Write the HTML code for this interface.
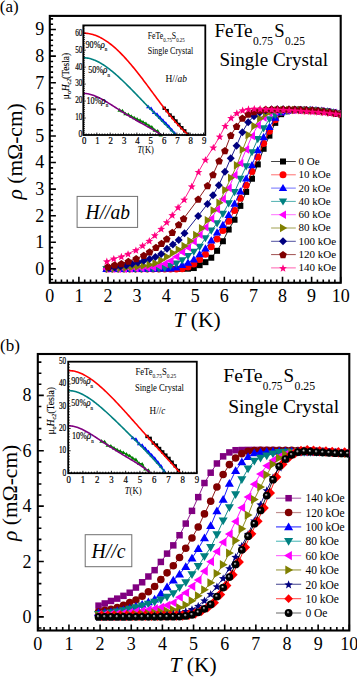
<!DOCTYPE html>
<html><head><meta charset="utf-8"><style>html,body{margin:0;padding:0;background:#fff;overflow:hidden}svg{display:block}</style></head>
<body><svg width="357" height="677" viewBox="0 0 357 677" font-family="Liberation Serif"><defs><radialGradient id="ball" cx="0.5" cy="0.5" r="0.5" fx="0.4" fy="0.36"><stop offset="0" stop-color="#e0e0e0"/><stop offset="0.14" stop-color="#999"/><stop offset="0.4" stop-color="#000"/><stop offset="1" stop-color="#000"/></radialGradient></defs><rect width="357" height="677" fill="#fff"/><text x="-0.2" y="12.3" font-size="17" text-anchor="start" >(a)</text><text x="44.2" y="274.7" font-size="18" text-anchor="end" >0</text><text x="44.2" y="248.11" font-size="18" text-anchor="end" >1</text><text x="44.2" y="221.51" font-size="18" text-anchor="end" >2</text><text x="44.2" y="194.92" font-size="18" text-anchor="end" >3</text><text x="44.2" y="168.32" font-size="18" text-anchor="end" >4</text><text x="44.2" y="141.73" font-size="18" text-anchor="end" >5</text><text x="44.2" y="115.14" font-size="18" text-anchor="end" >6</text><text x="44.2" y="88.54" font-size="18" text-anchor="end" >7</text><text x="44.2" y="61.95" font-size="18" text-anchor="end" >8</text><text x="44.2" y="35.35" font-size="18" text-anchor="end" >9</text><text x="49.8" y="301.5" font-size="18" text-anchor="middle" >0</text><text x="78.89" y="301.5" font-size="18" text-anchor="middle" >1</text><text x="107.98" y="301.5" font-size="18" text-anchor="middle" >2</text><text x="137.07" y="301.5" font-size="18" text-anchor="middle" >3</text><text x="166.16" y="301.5" font-size="18" text-anchor="middle" >4</text><text x="195.25" y="301.5" font-size="18" text-anchor="middle" >5</text><text x="224.34" y="301.5" font-size="18" text-anchor="middle" >6</text><text x="253.43" y="301.5" font-size="18" text-anchor="middle" >7</text><text x="282.52" y="301.5" font-size="18" text-anchor="middle" >8</text><text x="311.61" y="301.5" font-size="18" text-anchor="middle" >9</text><text x="340.7" y="301.5" font-size="18" text-anchor="middle" >10</text><text transform="translate(22.3,151.3) rotate(-90)" font-size="21.5" text-anchor="middle"><tspan font-style="italic">&#961;</tspan> (m&#937;-cm)</text><text x="197" y="326.8" font-size="21.5" text-anchor="middle"><tspan font-style="italic">T</tspan> (K)</text><path d="M49.8,282.8V276.7M55.62,282.8V279.5M61.44,282.8V279.5M67.25,282.8V279.5M73.07,282.8V279.5M78.89,282.8V276.7M84.71,282.8V279.5M90.53,282.8V279.5M96.34,282.8V279.5M102.16,282.8V279.5M107.98,282.8V276.7M113.8,282.8V279.5M119.62,282.8V279.5M125.43,282.8V279.5M131.25,282.8V279.5M137.07,282.8V276.7M142.89,282.8V279.5M148.71,282.8V279.5M154.52,282.8V279.5M160.34,282.8V279.5M166.16,282.8V276.7M171.98,282.8V279.5M177.8,282.8V279.5M183.61,282.8V279.5M189.43,282.8V279.5M195.25,282.8V276.7M201.07,282.8V279.5M206.89,282.8V279.5M212.7,282.8V279.5M218.52,282.8V279.5M224.34,282.8V276.7M230.16,282.8V279.5M235.98,282.8V279.5M241.79,282.8V279.5M247.61,282.8V279.5M253.43,282.8V276.7M259.25,282.8V279.5M265.07,282.8V279.5M270.88,282.8V279.5M276.7,282.8V279.5M282.52,282.8V276.7M288.34,282.8V279.5M294.16,282.8V279.5M299.97,282.8V279.5M305.79,282.8V279.5M311.61,282.8V276.7M317.43,282.8V279.5M323.25,282.8V279.5M329.06,282.8V279.5M334.88,282.8V279.5M340.7,282.8V276.7M49.8,279.54H53.1M49.8,274.22H53.1M49.8,268.9H55.9M49.8,263.58H53.1M49.8,258.26H53.1M49.8,252.94H53.1M49.8,247.62H53.1M49.8,242.31H55.9M49.8,236.99H53.1M49.8,231.67H53.1M49.8,226.35H53.1M49.8,221.03H53.1M49.8,215.71H55.9M49.8,210.39H53.1M49.8,205.07H53.1M49.8,199.76H53.1M49.8,194.44H53.1M49.8,189.12H55.9M49.8,183.8H53.1M49.8,178.48H53.1M49.8,173.16H53.1M49.8,167.84H53.1M49.8,162.52H55.9M49.8,157.21H53.1M49.8,151.89H53.1M49.8,146.57H53.1M49.8,141.25H53.1M49.8,135.93H55.9M49.8,130.61H53.1M49.8,125.29H53.1M49.8,119.97H53.1M49.8,114.65H53.1M49.8,109.34H55.9M49.8,104.02H53.1M49.8,98.7H53.1M49.8,93.38H53.1M49.8,88.06H53.1M49.8,82.74H55.9M49.8,77.42H53.1M49.8,72.1H53.1M49.8,66.79H53.1M49.8,61.47H53.1M49.8,56.15H55.9M49.8,50.83H53.1M49.8,45.51H53.1M49.8,40.19H53.1M49.8,34.87H53.1M49.8,29.55H55.9M49.8,24.24H53.1M49.8,18.92H53.1" stroke="#000" stroke-width="1.6" fill="none"/><rect x="49.8" y="15.9" width="290.9" height="266.9" stroke="#000" stroke-width="2.1" fill="none"/><text x="214.4" y="36.7" font-size="18.5" text-anchor="start" textLength="38.2" lengthAdjust="spacingAndGlyphs" >FeTe</text><text x="252.9" y="44.5" font-size="11.5" text-anchor="start" textLength="20.2" lengthAdjust="spacingAndGlyphs" >0.75</text><text x="274.3" y="36.7" font-size="18.5" text-anchor="start" textLength="10.4" lengthAdjust="spacingAndGlyphs" >S</text><text x="285" y="44.5" font-size="11.5" text-anchor="start" textLength="20" lengthAdjust="spacingAndGlyphs" >0.25</text><text x="219.4" y="66.3" font-size="19" text-anchor="start" textLength="108.6" lengthAdjust="spacingAndGlyphs" >Single Crystal</text><rect x="77.1" y="196.4" width="60.5" height="31" fill="#fff" stroke="#707070" stroke-width="1"/><text x="85.6" y="219.1" font-size="21.5" text-anchor="start" font-style="italic" textLength="44.4" lengthAdjust="spacingAndGlyphs" >H//ab</text><clipPath id="clipA"><rect x="49.8" y="15.9" width="290.9" height="266.9"/></clipPath><g clip-path="url(#clipA)"><polyline points="106.53,268.9 112.34,268.9 118.16,268.9 123.98,268.9 129.8,268.9 135.62,268.9 141.43,268.9 147.25,268.9 153.07,268.9 158.89,268.9 164.71,268.9 170.52,268.9 176.34,268.9 182.16,268.89 187.98,268.69 193.8,268.05 199.61,265.17 205.43,262.16 211.25,257.73 217.07,250.82 222.89,241.24 228.7,229.55 234.52,219.74 240.34,205.87 246.16,191.9 251.98,178.75 257.79,164.43 263.61,148.78 269.43,135.66 275.25,122.86 281.07,114.17 286.88,111.34 292.7,110.26 298.52,109.89 304.34,109.9 310.16,110.07 315.97,110.4 321.79,110.92 327.61,111.64 333.43,112.58 339.25,113.78" stroke="#000000" stroke-width="0.9" fill="none"/><rect x="103.53" y="265.9" width="6" height="6" fill="#000000"/><rect x="109.34" y="265.9" width="6" height="6" fill="#000000"/><rect x="115.16" y="265.9" width="6" height="6" fill="#000000"/><rect x="120.98" y="265.9" width="6" height="6" fill="#000000"/><rect x="126.8" y="265.9" width="6" height="6" fill="#000000"/><rect x="132.62" y="265.9" width="6" height="6" fill="#000000"/><rect x="138.43" y="265.9" width="6" height="6" fill="#000000"/><rect x="144.25" y="265.9" width="6" height="6" fill="#000000"/><rect x="150.07" y="265.9" width="6" height="6" fill="#000000"/><rect x="155.89" y="265.9" width="6" height="6" fill="#000000"/><rect x="161.71" y="265.9" width="6" height="6" fill="#000000"/><rect x="167.52" y="265.9" width="6" height="6" fill="#000000"/><rect x="173.34" y="265.9" width="6" height="6" fill="#000000"/><rect x="179.16" y="265.89" width="6" height="6" fill="#000000"/><rect x="184.98" y="265.69" width="6" height="6" fill="#000000"/><rect x="190.8" y="265.05" width="6" height="6" fill="#000000"/><rect x="196.61" y="262.17" width="6" height="6" fill="#000000"/><rect x="202.43" y="259.16" width="6" height="6" fill="#000000"/><rect x="208.25" y="254.73" width="6" height="6" fill="#000000"/><rect x="214.07" y="247.82" width="6" height="6" fill="#000000"/><rect x="219.89" y="238.24" width="6" height="6" fill="#000000"/><rect x="225.7" y="226.55" width="6" height="6" fill="#000000"/><rect x="231.52" y="216.74" width="6" height="6" fill="#000000"/><rect x="237.34" y="202.87" width="6" height="6" fill="#000000"/><rect x="243.16" y="188.9" width="6" height="6" fill="#000000"/><rect x="248.98" y="175.75" width="6" height="6" fill="#000000"/><rect x="254.79" y="161.43" width="6" height="6" fill="#000000"/><rect x="260.61" y="145.78" width="6" height="6" fill="#000000"/><rect x="266.43" y="132.66" width="6" height="6" fill="#000000"/><rect x="272.25" y="119.86" width="6" height="6" fill="#000000"/><rect x="278.07" y="111.17" width="6" height="6" fill="#000000"/><rect x="283.88" y="108.34" width="6" height="6" fill="#000000"/><rect x="289.7" y="107.26" width="6" height="6" fill="#000000"/><rect x="295.52" y="106.89" width="6" height="6" fill="#000000"/><rect x="301.34" y="106.9" width="6" height="6" fill="#000000"/><rect x="307.16" y="107.07" width="6" height="6" fill="#000000"/><rect x="312.97" y="107.4" width="6" height="6" fill="#000000"/><rect x="318.79" y="107.92" width="6" height="6" fill="#000000"/><rect x="324.61" y="108.64" width="6" height="6" fill="#000000"/><rect x="330.43" y="109.58" width="6" height="6" fill="#000000"/><rect x="336.25" y="110.78" width="6" height="6" fill="#000000"/><polyline points="106.53,268.9 112.34,268.9 118.16,268.9 123.98,268.9 129.8,268.9 135.62,268.9 141.43,268.9 147.25,268.9 153.07,268.9 158.89,268.9 164.71,268.9 170.52,268.9 176.34,268.9 182.16,268.78 187.98,266.93 193.8,263.94 199.61,259.59 205.43,254.27 211.25,246.83 217.07,238.95 222.89,230.53 228.7,221.3 234.52,210.44 240.34,198.16 246.16,185.26 251.98,171.57 257.79,157.04 263.61,143.49 269.43,131.14 275.25,119.73 281.07,112.57 286.88,110.49 292.7,109.99 298.52,109.87 304.34,109.95 310.16,110.16 315.97,110.51 321.79,111.03 327.61,111.74 333.43,112.65 339.25,113.8" stroke="#FF0000" stroke-width="0.9" fill="none"/><circle cx="106.53" cy="268.9" r="3.5" fill="#FF0000"/><circle cx="112.34" cy="268.9" r="3.5" fill="#FF0000"/><circle cx="118.16" cy="268.9" r="3.5" fill="#FF0000"/><circle cx="123.98" cy="268.9" r="3.5" fill="#FF0000"/><circle cx="129.8" cy="268.9" r="3.5" fill="#FF0000"/><circle cx="135.62" cy="268.9" r="3.5" fill="#FF0000"/><circle cx="141.43" cy="268.9" r="3.5" fill="#FF0000"/><circle cx="147.25" cy="268.9" r="3.5" fill="#FF0000"/><circle cx="153.07" cy="268.9" r="3.5" fill="#FF0000"/><circle cx="158.89" cy="268.9" r="3.5" fill="#FF0000"/><circle cx="164.71" cy="268.9" r="3.5" fill="#FF0000"/><circle cx="170.52" cy="268.9" r="3.5" fill="#FF0000"/><circle cx="176.34" cy="268.9" r="3.5" fill="#FF0000"/><circle cx="182.16" cy="268.78" r="3.5" fill="#FF0000"/><circle cx="187.98" cy="266.93" r="3.5" fill="#FF0000"/><circle cx="193.8" cy="263.94" r="3.5" fill="#FF0000"/><circle cx="199.61" cy="259.59" r="3.5" fill="#FF0000"/><circle cx="205.43" cy="254.27" r="3.5" fill="#FF0000"/><circle cx="211.25" cy="246.83" r="3.5" fill="#FF0000"/><circle cx="217.07" cy="238.95" r="3.5" fill="#FF0000"/><circle cx="222.89" cy="230.53" r="3.5" fill="#FF0000"/><circle cx="228.7" cy="221.3" r="3.5" fill="#FF0000"/><circle cx="234.52" cy="210.44" r="3.5" fill="#FF0000"/><circle cx="240.34" cy="198.16" r="3.5" fill="#FF0000"/><circle cx="246.16" cy="185.26" r="3.5" fill="#FF0000"/><circle cx="251.98" cy="171.57" r="3.5" fill="#FF0000"/><circle cx="257.79" cy="157.04" r="3.5" fill="#FF0000"/><circle cx="263.61" cy="143.49" r="3.5" fill="#FF0000"/><circle cx="269.43" cy="131.14" r="3.5" fill="#FF0000"/><circle cx="275.25" cy="119.73" r="3.5" fill="#FF0000"/><circle cx="281.07" cy="112.57" r="3.5" fill="#FF0000"/><circle cx="286.88" cy="110.49" r="3.5" fill="#FF0000"/><circle cx="292.7" cy="109.99" r="3.5" fill="#FF0000"/><circle cx="298.52" cy="109.87" r="3.5" fill="#FF0000"/><circle cx="304.34" cy="109.95" r="3.5" fill="#FF0000"/><circle cx="310.16" cy="110.16" r="3.5" fill="#FF0000"/><circle cx="315.97" cy="110.51" r="3.5" fill="#FF0000"/><circle cx="321.79" cy="111.03" r="3.5" fill="#FF0000"/><circle cx="327.61" cy="111.74" r="3.5" fill="#FF0000"/><circle cx="333.43" cy="112.65" r="3.5" fill="#FF0000"/><circle cx="339.25" cy="113.8" r="3.5" fill="#FF0000"/><polyline points="106.53,268.9 112.34,268.9 118.16,268.89 123.98,268.88 129.8,268.86 135.62,268.83 141.43,268.79 147.25,268.74 153.07,268.68 158.89,268.6 164.71,268.51 170.52,268.4 176.34,267.42 182.16,265.07 187.98,262.65 193.8,259.39 199.61,254.27 205.43,248.42 211.25,240.55 217.07,232.45 222.89,225.02 228.7,214.91 234.52,203.8 240.34,191.51 246.16,178.61 251.98,165.18 257.79,150.29 263.61,137.26 269.43,126.89 275.25,117.74 281.07,112.58 286.88,110.97 292.7,110.08 298.52,109.87 304.34,109.9 310.16,110.02 315.97,110.27 321.79,110.72 327.61,111.41 333.43,112.39 339.25,113.73" stroke="#0000FF" stroke-width="0.9" fill="none"/><polygon points="106.53,264.7 102.33,271.9 110.73,271.9" fill="#0000FF"/><polygon points="112.34,264.7 108.14,271.9 116.54,271.9" fill="#0000FF"/><polygon points="118.16,264.69 113.96,271.89 122.36,271.89" fill="#0000FF"/><polygon points="123.98,264.68 119.78,271.88 128.18,271.88" fill="#0000FF"/><polygon points="129.8,264.66 125.6,271.86 134,271.86" fill="#0000FF"/><polygon points="135.62,264.63 131.42,271.83 139.82,271.83" fill="#0000FF"/><polygon points="141.43,264.59 137.23,271.79 145.63,271.79" fill="#0000FF"/><polygon points="147.25,264.54 143.05,271.74 151.45,271.74" fill="#0000FF"/><polygon points="153.07,264.48 148.87,271.68 157.27,271.68" fill="#0000FF"/><polygon points="158.89,264.4 154.69,271.6 163.09,271.6" fill="#0000FF"/><polygon points="164.71,264.31 160.51,271.51 168.91,271.51" fill="#0000FF"/><polygon points="170.52,264.2 166.32,271.4 174.72,271.4" fill="#0000FF"/><polygon points="176.34,263.22 172.14,270.42 180.54,270.42" fill="#0000FF"/><polygon points="182.16,260.87 177.96,268.07 186.36,268.07" fill="#0000FF"/><polygon points="187.98,258.45 183.78,265.65 192.18,265.65" fill="#0000FF"/><polygon points="193.8,255.19 189.6,262.39 198,262.39" fill="#0000FF"/><polygon points="199.61,250.07 195.41,257.27 203.81,257.27" fill="#0000FF"/><polygon points="205.43,244.22 201.23,251.42 209.63,251.42" fill="#0000FF"/><polygon points="211.25,236.35 207.05,243.55 215.45,243.55" fill="#0000FF"/><polygon points="217.07,228.25 212.87,235.45 221.27,235.45" fill="#0000FF"/><polygon points="222.89,220.82 218.69,228.02 227.09,228.02" fill="#0000FF"/><polygon points="228.7,210.71 224.5,217.91 232.9,217.91" fill="#0000FF"/><polygon points="234.52,199.6 230.32,206.8 238.72,206.8" fill="#0000FF"/><polygon points="240.34,187.31 236.14,194.51 244.54,194.51" fill="#0000FF"/><polygon points="246.16,174.41 241.96,181.61 250.36,181.61" fill="#0000FF"/><polygon points="251.98,160.98 247.78,168.18 256.18,168.18" fill="#0000FF"/><polygon points="257.79,146.09 253.59,153.29 261.99,153.29" fill="#0000FF"/><polygon points="263.61,133.06 259.41,140.26 267.81,140.26" fill="#0000FF"/><polygon points="269.43,122.69 265.23,129.89 273.63,129.89" fill="#0000FF"/><polygon points="275.25,113.54 271.05,120.74 279.45,120.74" fill="#0000FF"/><polygon points="281.07,108.38 276.87,115.58 285.27,115.58" fill="#0000FF"/><polygon points="286.88,106.77 282.68,113.97 291.08,113.97" fill="#0000FF"/><polygon points="292.7,105.88 288.5,113.08 296.9,113.08" fill="#0000FF"/><polygon points="298.52,105.67 294.32,112.87 302.72,112.87" fill="#0000FF"/><polygon points="304.34,105.7 300.14,112.9 308.54,112.9" fill="#0000FF"/><polygon points="310.16,105.82 305.96,113.02 314.36,113.02" fill="#0000FF"/><polygon points="315.97,106.07 311.77,113.27 320.17,113.27" fill="#0000FF"/><polygon points="321.79,106.52 317.59,113.72 325.99,113.72" fill="#0000FF"/><polygon points="327.61,107.21 323.41,114.41 331.81,114.41" fill="#0000FF"/><polygon points="333.43,108.19 329.23,115.39 337.63,115.39" fill="#0000FF"/><polygon points="339.25,109.53 335.05,116.73 343.45,116.73" fill="#0000FF"/><polyline points="106.53,268.9 112.34,268.9 118.16,268.89 123.98,268.87 129.8,268.84 135.62,268.8 141.43,268.74 147.25,268.67 153.07,268.57 158.89,268.45 164.71,267.93 170.52,265.74 176.34,263.45 182.16,260.2 187.98,255.92 193.8,251.66 199.61,246.83 205.43,238.17 211.25,230.56 217.07,223.3 222.89,213.85 228.7,203.21 234.52,192.12 240.34,178.75 246.16,166.37 251.98,152.15 257.79,139.12 263.61,128.22 269.43,119.13 275.25,115.01 281.07,111.87 286.88,110.71 292.7,110.04 298.52,109.87 304.34,109.93 310.16,110.09 315.97,110.4 321.79,110.88 327.61,111.58 333.43,112.53 339.25,113.77" stroke="#008080" stroke-width="0.9" fill="none"/><polygon points="106.53,273.1 102.33,265.9 110.73,265.9" fill="#008080"/><polygon points="112.34,273.1 108.14,265.9 116.54,265.9" fill="#008080"/><polygon points="118.16,273.09 113.96,265.89 122.36,265.89" fill="#008080"/><polygon points="123.98,273.07 119.78,265.87 128.18,265.87" fill="#008080"/><polygon points="129.8,273.04 125.6,265.84 134,265.84" fill="#008080"/><polygon points="135.62,273 131.42,265.8 139.82,265.8" fill="#008080"/><polygon points="141.43,272.94 137.23,265.74 145.63,265.74" fill="#008080"/><polygon points="147.25,272.87 143.05,265.67 151.45,265.67" fill="#008080"/><polygon points="153.07,272.77 148.87,265.57 157.27,265.57" fill="#008080"/><polygon points="158.89,272.65 154.69,265.45 163.09,265.45" fill="#008080"/><polygon points="164.71,272.13 160.51,264.93 168.91,264.93" fill="#008080"/><polygon points="170.52,269.94 166.32,262.74 174.72,262.74" fill="#008080"/><polygon points="176.34,267.65 172.14,260.45 180.54,260.45" fill="#008080"/><polygon points="182.16,264.4 177.96,257.2 186.36,257.2" fill="#008080"/><polygon points="187.98,260.12 183.78,252.92 192.18,252.92" fill="#008080"/><polygon points="193.8,255.86 189.6,248.66 198,248.66" fill="#008080"/><polygon points="199.61,251.03 195.41,243.83 203.81,243.83" fill="#008080"/><polygon points="205.43,242.37 201.23,235.17 209.63,235.17" fill="#008080"/><polygon points="211.25,234.76 207.05,227.56 215.45,227.56" fill="#008080"/><polygon points="217.07,227.5 212.87,220.3 221.27,220.3" fill="#008080"/><polygon points="222.89,218.05 218.69,210.85 227.09,210.85" fill="#008080"/><polygon points="228.7,207.41 224.5,200.21 232.9,200.21" fill="#008080"/><polygon points="234.52,196.32 230.32,189.12 238.72,189.12" fill="#008080"/><polygon points="240.34,182.95 236.14,175.75 244.54,175.75" fill="#008080"/><polygon points="246.16,170.57 241.96,163.37 250.36,163.37" fill="#008080"/><polygon points="251.98,156.35 247.78,149.15 256.18,149.15" fill="#008080"/><polygon points="257.79,143.32 253.59,136.12 261.99,136.12" fill="#008080"/><polygon points="263.61,132.42 259.41,125.22 267.81,125.22" fill="#008080"/><polygon points="269.43,123.33 265.23,116.13 273.63,116.13" fill="#008080"/><polygon points="275.25,119.21 271.05,112.01 279.45,112.01" fill="#008080"/><polygon points="281.07,116.07 276.87,108.87 285.27,108.87" fill="#008080"/><polygon points="286.88,114.91 282.68,107.71 291.08,107.71" fill="#008080"/><polygon points="292.7,114.24 288.5,107.04 296.9,107.04" fill="#008080"/><polygon points="298.52,114.07 294.32,106.87 302.72,106.87" fill="#008080"/><polygon points="304.34,114.13 300.14,106.93 308.54,106.93" fill="#008080"/><polygon points="310.16,114.29 305.96,107.09 314.36,107.09" fill="#008080"/><polygon points="315.97,114.6 311.77,107.4 320.17,107.4" fill="#008080"/><polygon points="321.79,115.08 317.59,107.88 325.99,107.88" fill="#008080"/><polygon points="327.61,115.78 323.41,108.58 331.81,108.58" fill="#008080"/><polygon points="333.43,116.73 329.23,109.53 337.63,109.53" fill="#008080"/><polygon points="339.25,117.97 335.05,110.77 343.45,110.77" fill="#008080"/><polyline points="106.53,268.9 112.34,268.89 118.16,268.83 123.98,268.73 129.8,268.59 135.62,268.39 141.43,268.14 147.25,267.84 153.07,267.42 158.89,265.92 164.71,263.7 170.52,260.84 176.34,256.67 182.16,251.96 187.98,247.39 193.8,241.46 199.61,234.83 205.43,227.27 211.25,218.72 217.07,209.31 222.89,199.07 228.7,188.01 234.52,175.13 240.34,163.32 246.16,149.49 251.98,135.93 257.79,125.29 263.61,117.58 269.43,113.15 275.25,111.21 281.07,110.18 286.88,110.14 292.7,110.16 298.52,110.22 304.34,110.34 310.16,110.56 315.97,110.89 321.79,111.36 327.61,111.99 333.43,112.81 339.25,113.83" stroke="#FF00FF" stroke-width="0.9" fill="none"/><polygon points="102.33,268.9 109.53,264.7 109.53,273.1" fill="#FF00FF"/><polygon points="108.14,268.89 115.34,264.69 115.34,273.09" fill="#FF00FF"/><polygon points="113.96,268.83 121.16,264.63 121.16,273.03" fill="#FF00FF"/><polygon points="119.78,268.73 126.98,264.53 126.98,272.93" fill="#FF00FF"/><polygon points="125.6,268.59 132.8,264.39 132.8,272.79" fill="#FF00FF"/><polygon points="131.42,268.39 138.62,264.19 138.62,272.59" fill="#FF00FF"/><polygon points="137.23,268.14 144.43,263.94 144.43,272.34" fill="#FF00FF"/><polygon points="143.05,267.84 150.25,263.64 150.25,272.04" fill="#FF00FF"/><polygon points="148.87,267.42 156.07,263.22 156.07,271.62" fill="#FF00FF"/><polygon points="154.69,265.92 161.89,261.72 161.89,270.12" fill="#FF00FF"/><polygon points="160.51,263.7 167.71,259.5 167.71,267.9" fill="#FF00FF"/><polygon points="166.32,260.84 173.52,256.64 173.52,265.04" fill="#FF00FF"/><polygon points="172.14,256.67 179.34,252.47 179.34,260.87" fill="#FF00FF"/><polygon points="177.96,251.96 185.16,247.76 185.16,256.16" fill="#FF00FF"/><polygon points="183.78,247.39 190.98,243.19 190.98,251.59" fill="#FF00FF"/><polygon points="189.6,241.46 196.8,237.26 196.8,245.66" fill="#FF00FF"/><polygon points="195.41,234.83 202.61,230.63 202.61,239.03" fill="#FF00FF"/><polygon points="201.23,227.27 208.43,223.07 208.43,231.47" fill="#FF00FF"/><polygon points="207.05,218.72 214.25,214.52 214.25,222.92" fill="#FF00FF"/><polygon points="212.87,209.31 220.07,205.11 220.07,213.51" fill="#FF00FF"/><polygon points="218.69,199.07 225.89,194.87 225.89,203.27" fill="#FF00FF"/><polygon points="224.5,188.01 231.7,183.81 231.7,192.21" fill="#FF00FF"/><polygon points="230.32,175.13 237.52,170.93 237.52,179.33" fill="#FF00FF"/><polygon points="236.14,163.32 243.34,159.12 243.34,167.52" fill="#FF00FF"/><polygon points="241.96,149.49 249.16,145.29 249.16,153.69" fill="#FF00FF"/><polygon points="247.78,135.93 254.98,131.73 254.98,140.13" fill="#FF00FF"/><polygon points="253.59,125.29 260.79,121.09 260.79,129.49" fill="#FF00FF"/><polygon points="259.41,117.58 266.61,113.38 266.61,121.78" fill="#FF00FF"/><polygon points="265.23,113.15 272.43,108.95 272.43,117.35" fill="#FF00FF"/><polygon points="271.05,111.21 278.25,107.01 278.25,115.41" fill="#FF00FF"/><polygon points="276.87,110.18 284.07,105.98 284.07,114.38" fill="#FF00FF"/><polygon points="282.68,110.14 289.88,105.94 289.88,114.34" fill="#FF00FF"/><polygon points="288.5,110.16 295.7,105.96 295.7,114.36" fill="#FF00FF"/><polygon points="294.32,110.22 301.52,106.02 301.52,114.42" fill="#FF00FF"/><polygon points="300.14,110.34 307.34,106.14 307.34,114.54" fill="#FF00FF"/><polygon points="305.96,110.56 313.16,106.36 313.16,114.76" fill="#FF00FF"/><polygon points="311.77,110.89 318.97,106.69 318.97,115.09" fill="#FF00FF"/><polygon points="317.59,111.36 324.79,107.16 324.79,115.56" fill="#FF00FF"/><polygon points="323.41,111.99 330.61,107.79 330.61,116.19" fill="#FF00FF"/><polygon points="329.23,112.81 336.43,108.61 336.43,117.01" fill="#FF00FF"/><polygon points="335.05,113.83 342.25,109.63 342.25,118.03" fill="#FF00FF"/><polyline points="108.85,268.37 114.67,268.27 120.49,268.02 126.31,267.63 132.12,267.1 137.94,266.43 143.76,265.64 149.58,264.73 155.4,263.21 161.21,260.18 167.03,256.75 172.85,253.04 178.67,249.6 184.49,246.03 190.3,241.07 196.12,235.02 201.94,228.23 207.76,220.14 213.58,210.39 219.39,202.78 225.21,189.92 231.03,177.87 236.85,165.28 242.67,149.67 248.48,134.96 254.3,126.04 260.12,118.58 265.94,114.03 271.76,111.16 277.57,110.16 283.39,109.87 289.21,109.88 295.03,109.92 300.85,110.01 306.66,110.19 312.48,110.47 318.3,110.88 324.12,111.45 329.94,112.19 335.75,113.14 341.57,114.31" stroke="#808000" stroke-width="0.9" fill="none"/><polygon points="113.05,268.37 105.85,264.17 105.85,272.57" fill="#808000"/><polygon points="118.87,268.27 111.67,264.07 111.67,272.47" fill="#808000"/><polygon points="124.69,268.02 117.49,263.82 117.49,272.22" fill="#808000"/><polygon points="130.51,267.63 123.31,263.43 123.31,271.83" fill="#808000"/><polygon points="136.32,267.1 129.12,262.9 129.12,271.3" fill="#808000"/><polygon points="142.14,266.43 134.94,262.23 134.94,270.63" fill="#808000"/><polygon points="147.96,265.64 140.76,261.44 140.76,269.84" fill="#808000"/><polygon points="153.78,264.73 146.58,260.53 146.58,268.93" fill="#808000"/><polygon points="159.6,263.21 152.4,259.01 152.4,267.41" fill="#808000"/><polygon points="165.41,260.18 158.21,255.98 158.21,264.38" fill="#808000"/><polygon points="171.23,256.75 164.03,252.55 164.03,260.95" fill="#808000"/><polygon points="177.05,253.04 169.85,248.84 169.85,257.24" fill="#808000"/><polygon points="182.87,249.6 175.67,245.4 175.67,253.8" fill="#808000"/><polygon points="188.69,246.03 181.49,241.83 181.49,250.23" fill="#808000"/><polygon points="194.5,241.07 187.3,236.87 187.3,245.27" fill="#808000"/><polygon points="200.32,235.02 193.12,230.82 193.12,239.22" fill="#808000"/><polygon points="206.14,228.23 198.94,224.03 198.94,232.43" fill="#808000"/><polygon points="211.96,220.14 204.76,215.94 204.76,224.34" fill="#808000"/><polygon points="217.78,210.39 210.58,206.19 210.58,214.59" fill="#808000"/><polygon points="223.59,202.78 216.39,198.58 216.39,206.98" fill="#808000"/><polygon points="229.41,189.92 222.21,185.72 222.21,194.12" fill="#808000"/><polygon points="235.23,177.87 228.03,173.67 228.03,182.07" fill="#808000"/><polygon points="241.05,165.28 233.85,161.08 233.85,169.48" fill="#808000"/><polygon points="246.87,149.67 239.67,145.47 239.67,153.87" fill="#808000"/><polygon points="252.68,134.96 245.48,130.76 245.48,139.16" fill="#808000"/><polygon points="258.5,126.04 251.3,121.84 251.3,130.24" fill="#808000"/><polygon points="264.32,118.58 257.12,114.38 257.12,122.78" fill="#808000"/><polygon points="270.14,114.03 262.94,109.83 262.94,118.23" fill="#808000"/><polygon points="275.96,111.16 268.76,106.96 268.76,115.36" fill="#808000"/><polygon points="281.77,110.16 274.57,105.96 274.57,114.36" fill="#808000"/><polygon points="287.59,109.87 280.39,105.67 280.39,114.07" fill="#808000"/><polygon points="293.41,109.88 286.21,105.68 286.21,114.08" fill="#808000"/><polygon points="299.23,109.92 292.03,105.72 292.03,114.12" fill="#808000"/><polygon points="305.05,110.01 297.85,105.81 297.85,114.21" fill="#808000"/><polygon points="310.86,110.19 303.66,105.99 303.66,114.39" fill="#808000"/><polygon points="316.68,110.47 309.48,106.27 309.48,114.67" fill="#808000"/><polygon points="322.5,110.88 315.3,106.68 315.3,115.08" fill="#808000"/><polygon points="328.32,111.45 321.12,107.25 321.12,115.65" fill="#808000"/><polygon points="334.14,112.19 326.94,107.99 326.94,116.39" fill="#808000"/><polygon points="339.95,113.14 332.75,108.94 332.75,117.34" fill="#808000"/><polygon points="345.77,114.31 338.57,110.11 338.57,118.51" fill="#808000"/><polyline points="108.85,268.05 114.67,267.48 120.49,266.58 126.31,265.41 132.12,264.01 137.94,262.43 143.76,260.71 149.58,258.91 155.4,256.95 161.21,254.09 167.03,248.69 172.85,244.48 178.67,239.91 184.49,233.3 198.16,215.98 207.47,204.05 212.99,195.19 218.81,185.13 224.92,171.83 230.74,158.27 236.56,145.63 242.38,132.16 248.19,122.21 254.01,116.2 259.83,112.39 265.65,110.51 271.47,109.45 277.28,109.34 283.1,109.35 288.92,109.39 294.74,109.48 300.56,109.64 306.37,109.89 312.19,110.24 318.01,110.72 323.83,111.34 329.65,112.12 335.46,113.08 341.28,114.25" stroke="#000080" stroke-width="0.9" fill="none"/><polygon points="108.85,264.05 112.85,268.05 108.85,272.05 104.85,268.05" fill="#000080"/><polygon points="114.67,263.48 118.67,267.48 114.67,271.48 110.67,267.48" fill="#000080"/><polygon points="120.49,262.58 124.49,266.58 120.49,270.58 116.49,266.58" fill="#000080"/><polygon points="126.31,261.41 130.31,265.41 126.31,269.41 122.31,265.41" fill="#000080"/><polygon points="132.12,260.01 136.12,264.01 132.12,268.01 128.12,264.01" fill="#000080"/><polygon points="137.94,258.43 141.94,262.43 137.94,266.43 133.94,262.43" fill="#000080"/><polygon points="143.76,256.71 147.76,260.71 143.76,264.71 139.76,260.71" fill="#000080"/><polygon points="149.58,254.91 153.58,258.91 149.58,262.91 145.58,258.91" fill="#000080"/><polygon points="155.4,252.95 159.4,256.95 155.4,260.95 151.4,256.95" fill="#000080"/><polygon points="161.21,250.09 165.21,254.09 161.21,258.09 157.21,254.09" fill="#000080"/><polygon points="167.03,244.69 171.03,248.69 167.03,252.69 163.03,248.69" fill="#000080"/><polygon points="172.85,240.48 176.85,244.48 172.85,248.48 168.85,244.48" fill="#000080"/><polygon points="178.67,235.91 182.67,239.91 178.67,243.91 174.67,239.91" fill="#000080"/><polygon points="184.49,229.3 188.49,233.3 184.49,237.3 180.49,233.3" fill="#000080"/><polygon points="198.16,211.98 202.16,215.98 198.16,219.98 194.16,215.98" fill="#000080"/><polygon points="207.47,200.05 211.47,204.05 207.47,208.05 203.47,204.05" fill="#000080"/><polygon points="212.99,191.19 216.99,195.19 212.99,199.19 208.99,195.19" fill="#000080"/><polygon points="218.81,181.13 222.81,185.13 218.81,189.13 214.81,185.13" fill="#000080"/><polygon points="224.92,167.83 228.92,171.83 224.92,175.83 220.92,171.83" fill="#000080"/><polygon points="230.74,154.27 234.74,158.27 230.74,162.27 226.74,158.27" fill="#000080"/><polygon points="236.56,141.63 240.56,145.63 236.56,149.63 232.56,145.63" fill="#000080"/><polygon points="242.38,128.16 246.38,132.16 242.38,136.16 238.38,132.16" fill="#000080"/><polygon points="248.19,118.21 252.19,122.21 248.19,126.21 244.19,122.21" fill="#000080"/><polygon points="254.01,112.2 258.01,116.2 254.01,120.2 250.01,116.2" fill="#000080"/><polygon points="259.83,108.39 263.83,112.39 259.83,116.39 255.83,112.39" fill="#000080"/><polygon points="265.65,106.51 269.65,110.51 265.65,114.51 261.65,110.51" fill="#000080"/><polygon points="271.47,105.45 275.47,109.45 271.47,113.45 267.47,109.45" fill="#000080"/><polygon points="277.28,105.34 281.28,109.34 277.28,113.34 273.28,109.34" fill="#000080"/><polygon points="283.1,105.35 287.1,109.35 283.1,113.35 279.1,109.35" fill="#000080"/><polygon points="288.92,105.39 292.92,109.39 288.92,113.39 284.92,109.39" fill="#000080"/><polygon points="294.74,105.48 298.74,109.48 294.74,113.48 290.74,109.48" fill="#000080"/><polygon points="300.56,105.64 304.56,109.64 300.56,113.64 296.56,109.64" fill="#000080"/><polygon points="306.37,105.89 310.37,109.89 306.37,113.89 302.37,109.89" fill="#000080"/><polygon points="312.19,106.24 316.19,110.24 312.19,114.24 308.19,110.24" fill="#000080"/><polygon points="318.01,106.72 322.01,110.72 318.01,114.72 314.01,110.72" fill="#000080"/><polygon points="323.83,107.34 327.83,111.34 323.83,115.34 319.83,111.34" fill="#000080"/><polygon points="329.65,108.12 333.65,112.12 329.65,116.12 325.65,112.12" fill="#000080"/><polygon points="335.46,109.08 339.46,113.08 335.46,117.08 331.46,113.08" fill="#000080"/><polygon points="341.28,110.25 345.28,114.25 341.28,118.25 337.28,114.25" fill="#000080"/><polyline points="107.98,266.51 114.67,264.91 121.36,263.58 128.34,261.23 136.2,258.59 143.76,255.34 149.58,251.88 155.98,247.36 161.51,243.37 166.74,238.89 172.27,232.38 178.67,224.67 183.61,218.64 198.16,199.22 207.47,185.66 212.99,174.49 219.1,160.93 224.92,150.64 230.74,135.36 236.56,126.26 242.38,118.1 248.19,114 254.01,111.5 259.83,110.05 265.65,109.33 271.47,109.07 277.28,109.08 283.1,109.1 288.92,109.17 294.74,109.29 300.56,109.49 306.37,109.77 312.19,110.16 318.01,110.67 323.83,111.32 329.65,112.12 335.46,113.09 341.28,114.25" stroke="#800000" stroke-width="0.9" fill="none"/><polygon points="107.98,262.91 111.78,265.67 110.33,270.14 105.63,270.14 104.18,265.67" fill="#800000"/><polygon points="114.67,261.31 118.47,264.07 117.02,268.55 112.32,268.55 110.87,264.07" fill="#800000"/><polygon points="121.36,259.98 125.17,262.75 123.71,267.22 119.01,267.22 117.56,262.75" fill="#800000"/><polygon points="128.34,257.63 132.15,260.39 130.69,264.86 125.99,264.86 124.54,260.39" fill="#800000"/><polygon points="136.2,254.99 140,257.75 138.55,262.22 133.85,262.22 132.39,257.75" fill="#800000"/><polygon points="143.76,251.74 147.56,254.5 146.11,258.97 141.41,258.97 139.96,254.5" fill="#800000"/><polygon points="149.58,248.28 153.38,251.04 151.93,255.52 147.23,255.52 145.77,251.04" fill="#800000"/><polygon points="155.98,243.76 159.78,246.52 158.33,250.99 153.63,250.99 152.17,246.52" fill="#800000"/><polygon points="161.51,239.77 165.31,242.53 163.86,247.01 159.15,247.01 157.7,242.53" fill="#800000"/><polygon points="166.74,235.29 170.55,238.06 169.09,242.53 164.39,242.53 162.94,238.06" fill="#800000"/><polygon points="172.27,228.78 176.07,231.54 174.62,236.01 169.92,236.01 168.46,231.54" fill="#800000"/><polygon points="178.67,221.07 182.47,223.83 181.02,228.3 176.32,228.3 174.86,223.83" fill="#800000"/><polygon points="183.61,215.04 187.42,217.8 185.97,222.27 181.26,222.27 179.81,217.8" fill="#800000"/><polygon points="198.16,195.62 201.96,198.39 200.51,202.86 195.81,202.86 194.35,198.39" fill="#800000"/><polygon points="207.47,182.06 211.27,184.82 209.82,189.3 205.12,189.3 203.66,184.82" fill="#800000"/><polygon points="212.99,170.89 216.8,173.66 215.35,178.13 210.64,178.13 209.19,173.66" fill="#800000"/><polygon points="219.1,157.33 222.91,160.09 221.45,164.56 216.75,164.56 215.3,160.09" fill="#800000"/><polygon points="224.92,147.04 228.73,149.8 227.27,154.28 222.57,154.28 221.12,149.8" fill="#800000"/><polygon points="230.74,131.76 234.54,134.52 233.09,138.99 228.39,138.99 226.94,134.52" fill="#800000"/><polygon points="236.56,122.66 240.36,125.42 238.91,129.89 234.21,129.89 232.75,125.42" fill="#800000"/><polygon points="242.38,114.5 246.18,117.27 244.73,121.74 240.02,121.74 238.57,117.27" fill="#800000"/><polygon points="248.19,110.4 252,113.16 250.54,117.63 245.84,117.63 244.39,113.16" fill="#800000"/><polygon points="254.01,107.9 257.82,110.66 256.36,115.13 251.66,115.13 250.21,110.66" fill="#800000"/><polygon points="259.83,106.45 263.63,109.21 262.18,113.69 257.48,113.69 256.03,109.21" fill="#800000"/><polygon points="265.65,105.73 269.45,108.5 268,112.97 263.3,112.97 261.84,108.5" fill="#800000"/><polygon points="271.47,105.47 275.27,108.23 273.82,112.71 269.11,112.71 267.66,108.23" fill="#800000"/><polygon points="277.28,105.48 281.09,108.24 279.63,112.71 274.93,112.71 273.48,108.24" fill="#800000"/><polygon points="283.1,105.5 286.91,108.27 285.45,112.74 280.75,112.74 279.3,108.27" fill="#800000"/><polygon points="288.92,105.57 292.72,108.34 291.27,112.81 286.57,112.81 285.12,108.34" fill="#800000"/><polygon points="294.74,105.69 298.54,108.46 297.09,112.93 292.39,112.93 290.93,108.46" fill="#800000"/><polygon points="300.56,105.89 304.36,108.65 302.91,113.13 298.2,113.13 296.75,108.65" fill="#800000"/><polygon points="306.37,106.17 310.18,108.94 308.72,113.41 304.02,113.41 302.57,108.94" fill="#800000"/><polygon points="312.19,106.56 316,109.32 314.54,113.8 309.84,113.8 308.39,109.32" fill="#800000"/><polygon points="318.01,107.07 321.81,109.83 320.36,114.31 315.66,114.31 314.21,109.83" fill="#800000"/><polygon points="323.83,107.72 327.63,110.48 326.18,114.95 321.48,114.95 320.02,110.48" fill="#800000"/><polygon points="329.65,108.52 333.45,111.28 332,115.75 327.29,115.75 325.84,111.28" fill="#800000"/><polygon points="335.46,109.49 339.27,112.25 337.81,116.72 333.11,116.72 331.66,112.25" fill="#800000"/><polygon points="341.28,110.65 345.09,113.41 343.63,117.88 338.93,117.88 337.48,113.41" fill="#800000"/><polyline points="106.82,261.19 113.8,258.53 121.36,256.4 128.05,253.74 135.91,250.02 142.6,245.5 149.29,240.71 154.81,235.13 161.21,228.69 166.74,222.09 172.27,214.91 178.09,207.2 184.2,199.49 191.76,186.19 198.45,171.83 205.43,159.6 213.29,147.37 219.69,136.46 225.21,125.82 231.03,117.81 236.85,112.96 242.67,110.15 248.48,108.94 254.3,108.54 260.12,108.66 265.94,108.89 271.76,109.14 277.57,109.4 283.39,109.69 289.21,110.01 295.03,110.36 300.85,110.73 306.66,111.14 312.48,111.57 318.3,112.04 324.12,112.54 329.94,113.06 335.75,113.62 341.57,114.21" stroke="#FF0080" stroke-width="0.9" fill="none"/><polygon points="106.82,257.59 107.85,260.27 110.72,260.42 108.48,262.23 109.23,265 106.82,263.44 104.41,265 105.15,262.23 102.92,260.42 105.79,260.27" fill="#FF0080"/><polygon points="113.8,254.93 114.83,257.61 117.7,257.76 115.46,259.57 116.21,262.35 113.8,260.78 111.39,262.35 112.13,259.57 109.9,257.76 112.77,257.61" fill="#FF0080"/><polygon points="121.36,252.8 122.39,255.49 125.26,255.63 123.03,257.44 123.77,260.22 121.36,258.65 118.95,260.22 119.7,257.44 117.46,255.63 120.33,255.49" fill="#FF0080"/><polygon points="128.05,250.14 129.08,252.83 131.95,252.97 129.72,254.78 130.46,257.56 128.05,255.99 125.64,257.56 126.39,254.78 124.15,252.97 127.02,252.83" fill="#FF0080"/><polygon points="135.91,246.42 136.94,249.1 139.81,249.25 137.57,251.06 138.32,253.84 135.91,252.27 133.5,253.84 134.24,251.06 132.01,249.25 134.88,249.1" fill="#FF0080"/><polygon points="142.6,241.9 143.63,244.58 146.5,244.73 144.26,246.54 145.01,249.31 142.6,247.75 140.19,249.31 140.93,246.54 138.7,244.73 141.57,244.58" fill="#FF0080"/><polygon points="149.29,237.11 150.32,239.79 153.19,239.94 150.95,241.75 151.7,244.53 149.29,242.96 146.88,244.53 147.62,241.75 145.39,239.94 148.26,239.79" fill="#FF0080"/><polygon points="154.81,231.53 155.84,234.21 158.71,234.36 156.48,236.17 157.22,238.94 154.81,237.38 152.4,238.94 153.15,236.17 150.92,234.36 153.79,234.21" fill="#FF0080"/><polygon points="161.21,225.09 162.24,227.77 165.11,227.92 162.88,229.73 163.62,232.51 161.21,230.94 158.8,232.51 159.55,229.73 157.32,227.92 160.19,227.77" fill="#FF0080"/><polygon points="166.74,218.49 167.77,221.18 170.64,221.33 168.41,223.14 169.15,225.91 166.74,224.34 164.33,225.91 165.08,223.14 162.84,221.33 165.71,221.18" fill="#FF0080"/><polygon points="172.27,211.31 173.3,214 176.17,214.15 173.93,215.95 174.68,218.73 172.27,217.16 169.86,218.73 170.6,215.95 168.37,214.15 171.24,214" fill="#FF0080"/><polygon points="178.09,203.6 179.12,206.29 181.99,206.43 179.75,208.24 180.5,211.02 178.09,209.45 175.68,211.02 176.42,208.24 174.19,206.43 177.06,206.29" fill="#FF0080"/><polygon points="184.2,195.89 185.22,198.57 188.1,198.72 185.86,200.53 186.61,203.31 184.2,201.74 181.79,203.31 182.53,200.53 180.3,198.72 183.17,198.57" fill="#FF0080"/><polygon points="191.76,182.59 192.79,185.28 195.66,185.43 193.42,187.23 194.17,190.01 191.76,188.44 189.35,190.01 190.09,187.23 187.86,185.43 190.73,185.28" fill="#FF0080"/><polygon points="198.45,168.23 199.48,170.92 202.35,171.06 200.11,172.87 200.86,175.65 198.45,174.08 196.04,175.65 196.79,172.87 194.55,171.06 197.42,170.92" fill="#FF0080"/><polygon points="205.43,156 206.46,158.68 209.33,158.83 207.1,160.64 207.84,163.42 205.43,161.85 203.02,163.42 203.77,160.64 201.53,158.83 204.4,158.68" fill="#FF0080"/><polygon points="213.29,143.77 214.31,146.45 217.19,146.6 214.95,148.41 215.7,151.18 213.29,149.62 210.88,151.18 211.62,148.41 209.39,146.6 212.26,146.45" fill="#FF0080"/><polygon points="219.69,132.86 220.71,135.55 223.58,135.69 221.35,137.5 222.1,140.28 219.69,138.71 217.28,140.28 218.02,137.5 215.79,135.69 218.66,135.55" fill="#FF0080"/><polygon points="225.21,122.22 226.24,124.91 229.11,125.06 226.88,126.87 227.62,129.64 225.21,128.07 222.8,129.64 223.55,126.87 221.31,125.06 224.18,124.91" fill="#FF0080"/><polygon points="231.03,114.21 232.06,116.89 234.93,117.04 232.7,118.85 233.44,121.63 231.03,120.06 228.62,121.63 229.37,118.85 227.13,117.04 230,116.89" fill="#FF0080"/><polygon points="236.85,109.36 237.88,112.05 240.75,112.19 238.51,114 239.26,116.78 236.85,115.21 234.44,116.78 235.18,114 232.95,112.19 235.82,112.05" fill="#FF0080"/><polygon points="242.67,106.55 243.7,109.24 246.57,109.39 244.33,111.19 245.08,113.97 242.67,112.4 240.26,113.97 241,111.19 238.77,109.39 241.64,109.24" fill="#FF0080"/><polygon points="248.48,105.34 249.51,108.03 252.38,108.18 250.15,109.98 250.89,112.76 248.48,111.19 246.07,112.76 246.82,109.98 244.59,108.18 247.46,108.03" fill="#FF0080"/><polygon points="254.3,104.94 255.33,107.62 258.2,107.77 255.97,109.58 256.71,112.36 254.3,110.79 251.89,112.36 252.64,109.58 250.4,107.77 253.27,107.62" fill="#FF0080"/><polygon points="260.12,105.06 261.15,107.75 264.02,107.9 261.79,109.7 262.53,112.48 260.12,110.91 257.71,112.48 258.46,109.7 256.22,107.9 259.09,107.75" fill="#FF0080"/><polygon points="265.94,105.29 266.97,107.98 269.84,108.13 267.6,109.94 268.35,112.71 265.94,111.14 263.53,112.71 264.27,109.94 262.04,108.13 264.91,107.98" fill="#FF0080"/><polygon points="271.76,105.54 272.79,108.23 275.66,108.38 273.42,110.18 274.17,112.96 271.76,111.39 269.35,112.96 270.09,110.18 267.86,108.38 270.73,108.23" fill="#FF0080"/><polygon points="277.57,105.8 278.6,108.49 281.47,108.64 279.24,110.44 279.98,113.22 277.57,111.65 275.16,113.22 275.91,110.44 273.68,108.64 276.55,108.49" fill="#FF0080"/><polygon points="283.39,106.09 284.42,108.78 287.29,108.93 285.06,110.73 285.8,113.51 283.39,111.94 280.98,113.51 281.73,110.73 279.49,108.93 282.36,108.78" fill="#FF0080"/><polygon points="289.21,106.41 290.24,109.1 293.11,109.24 290.88,111.05 291.62,113.83 289.21,112.26 286.8,113.83 287.55,111.05 285.31,109.24 288.18,109.1" fill="#FF0080"/><polygon points="295.03,106.76 296.06,109.44 298.93,109.59 296.69,111.4 297.44,114.17 295.03,112.61 292.62,114.17 293.36,111.4 291.13,109.59 294,109.44" fill="#FF0080"/><polygon points="300.85,107.13 301.88,109.82 304.75,109.97 302.51,111.77 303.26,114.55 300.85,112.98 298.44,114.55 299.18,111.77 296.95,109.97 299.82,109.82" fill="#FF0080"/><polygon points="306.66,107.54 307.69,110.22 310.56,110.37 308.33,112.18 309.07,114.96 306.66,113.39 304.25,114.96 305,112.18 302.77,110.37 305.64,110.22" fill="#FF0080"/><polygon points="312.48,107.97 313.51,110.66 316.38,110.81 314.15,112.62 314.89,115.39 312.48,113.82 310.07,115.39 310.82,112.62 308.58,110.81 311.45,110.66" fill="#FF0080"/><polygon points="318.3,108.44 319.33,111.12 322.2,111.27 319.97,113.08 320.71,115.86 318.3,114.29 315.89,115.86 316.64,113.08 314.4,111.27 317.27,111.12" fill="#FF0080"/><polygon points="324.12,108.94 325.15,111.62 328.02,111.77 325.78,113.58 326.53,116.35 324.12,114.79 321.71,116.35 322.45,113.58 320.22,111.77 323.09,111.62" fill="#FF0080"/><polygon points="329.94,109.46 330.97,112.15 333.84,112.3 331.6,114.11 332.35,116.88 329.94,115.31 327.53,116.88 328.27,114.11 326.04,112.3 328.91,112.15" fill="#FF0080"/><polygon points="335.75,110.02 336.78,112.71 339.65,112.86 337.42,114.66 338.16,117.44 335.75,115.87 333.34,117.44 334.09,114.66 331.86,112.86 334.73,112.71" fill="#FF0080"/><polygon points="341.57,110.61 342.6,113.3 345.47,113.45 343.24,115.25 343.98,118.03 341.57,116.46 339.16,118.03 339.91,115.25 337.67,113.45 340.54,113.3" fill="#FF0080"/></g><path d="M271.1,161.5H295.8" stroke="#444" stroke-width="1"/><rect x="280" y="158.5" width="6" height="6" fill="#000000"/><text x="298.6" y="164.9" font-size="11" text-anchor="start" >0 Oe</text><path d="M271.1,174.8H295.8" stroke="#ff7070" stroke-width="1"/><circle cx="283" cy="174.8" r="3.5" fill="#FF0000"/><text x="298.6" y="178.2" font-size="11" text-anchor="start" >10 kOe</text><path d="M271.1,188.1H295.8" stroke="#7070ff" stroke-width="1"/><polygon points="283,183.9 278.8,191.1 287.2,191.1" fill="#0000FF"/><text x="298.6" y="191.5" font-size="11" text-anchor="start" >20 kOe</text><path d="M271.1,201.4H295.8" stroke="#50b0b0" stroke-width="1"/><polygon points="283,205.6 278.8,198.4 287.2,198.4" fill="#008080"/><text x="298.6" y="204.8" font-size="11" text-anchor="start" >40 kOe</text><path d="M271.1,214.7H295.8" stroke="#ff70ff" stroke-width="1"/><polygon points="278.8,214.7 286,210.5 286,218.9" fill="#FF00FF"/><text x="298.6" y="218.1" font-size="11" text-anchor="start" >60 kOe</text><path d="M271.1,228H295.8" stroke="#a0a050" stroke-width="1"/><polygon points="287.2,228 280,223.8 280,232.2" fill="#808000"/><text x="298.6" y="231.4" font-size="11" text-anchor="start" >80 kOe</text><path d="M271.1,241.3H295.8" stroke="#5050a0" stroke-width="1"/><polygon points="283,237.3 287,241.3 283,245.3 279,241.3" fill="#000080"/><text x="298.6" y="244.7" font-size="11" text-anchor="start" >100 kOe</text><path d="M271.1,254.6H295.8" stroke="#a05050" stroke-width="1"/><polygon points="283,251 286.8,253.76 285.35,258.24 280.65,258.24 279.2,253.76" fill="#800000"/><text x="298.6" y="258" font-size="11" text-anchor="start" >120 kOe</text><path d="M271.1,267.9H295.8" stroke="#ff60b0" stroke-width="1"/><polygon points="283,264.3 284.03,266.98 286.9,267.13 284.66,268.94 285.41,271.72 283,270.15 280.59,271.72 281.34,268.94 279.1,267.13 281.97,266.98" fill="#FF0080"/><text x="298.6" y="271.3" font-size="11" text-anchor="start" >140 kOe</text><text x="0" y="350.9" font-size="17" text-anchor="start" >(b)</text><text x="31.4" y="623" font-size="18" text-anchor="end" >0</text><text x="31.4" y="567.62" font-size="18" text-anchor="end" >2</text><text x="31.4" y="512.24" font-size="18" text-anchor="end" >4</text><text x="31.4" y="456.86" font-size="18" text-anchor="end" >6</text><text x="31.4" y="401.48" font-size="18" text-anchor="end" >8</text><text x="37.8" y="650" font-size="18" text-anchor="middle" >0</text><text x="68.95" y="650" font-size="18" text-anchor="middle" >1</text><text x="100.1" y="650" font-size="18" text-anchor="middle" >2</text><text x="131.25" y="650" font-size="18" text-anchor="middle" >3</text><text x="162.4" y="650" font-size="18" text-anchor="middle" >4</text><text x="193.55" y="650" font-size="18" text-anchor="middle" >5</text><text x="224.7" y="650" font-size="18" text-anchor="middle" >6</text><text x="255.85" y="650" font-size="18" text-anchor="middle" >7</text><text x="287" y="650" font-size="18" text-anchor="middle" >8</text><text x="318.15" y="650" font-size="18" text-anchor="middle" >9</text><text x="349.3" y="650" font-size="18" text-anchor="middle" >10</text><text transform="translate(17.2,492.8) rotate(-90)" font-size="21.5" text-anchor="middle"><tspan font-style="italic">&#961;</tspan> (m&#937;-cm)</text><text x="193" y="672.2" font-size="21.5" text-anchor="middle"><tspan font-style="italic">T</tspan> (K)</text><path d="M37.8,630.5V624.5M44.03,630.5V626.9M50.26,630.5V626.9M56.49,630.5V626.9M62.72,630.5V626.9M68.95,630.5V624.5M75.18,630.5V626.9M81.41,630.5V626.9M87.64,630.5V626.9M93.87,630.5V626.9M100.1,630.5V624.5M106.33,630.5V626.9M112.56,630.5V626.9M118.79,630.5V626.9M125.02,630.5V626.9M131.25,630.5V624.5M137.48,630.5V626.9M143.71,630.5V626.9M149.94,630.5V626.9M156.17,630.5V626.9M162.4,630.5V624.5M168.63,630.5V626.9M174.86,630.5V626.9M181.09,630.5V626.9M187.32,630.5V626.9M193.55,630.5V624.5M199.78,630.5V626.9M206.01,630.5V626.9M212.24,630.5V626.9M218.47,630.5V626.9M224.7,630.5V624.5M230.93,630.5V626.9M237.16,630.5V626.9M243.39,630.5V626.9M249.62,630.5V626.9M255.85,630.5V624.5M262.08,630.5V626.9M268.31,630.5V626.9M274.54,630.5V626.9M280.77,630.5V626.9M287,630.5V624.5M293.23,630.5V626.9M299.46,630.5V626.9M305.69,630.5V626.9M311.92,630.5V626.9M318.15,630.5V624.5M324.38,630.5V626.9M330.61,630.5V626.9M336.84,630.5V626.9M343.07,630.5V626.9M349.3,630.5V624.5M37.8,627.98H41.4M37.8,616.9H43.8M37.8,605.82H41.4M37.8,594.75H41.4M37.8,583.67H41.4M37.8,572.6H41.4M37.8,561.52H43.8M37.8,550.44H41.4M37.8,539.37H41.4M37.8,528.29H41.4M37.8,517.22H41.4M37.8,506.14H43.8M37.8,495.06H41.4M37.8,483.99H41.4M37.8,472.91H41.4M37.8,461.84H41.4M37.8,450.76H43.8M37.8,439.68H41.4M37.8,428.61H41.4M37.8,417.53H41.4M37.8,406.46H41.4M37.8,395.38H43.8M37.8,384.3H41.4M37.8,373.23H41.4M37.8,362.15H41.4" stroke="#000" stroke-width="1.6" fill="none"/><rect x="37.8" y="354" width="311.5" height="276.5" stroke="#000" stroke-width="2.1" fill="none"/><text x="223.3" y="381.7" font-size="18.5" text-anchor="start" textLength="39.2" lengthAdjust="spacingAndGlyphs" >FeTe</text><text x="262.8" y="389.5" font-size="11.5" text-anchor="start" textLength="19.6" lengthAdjust="spacingAndGlyphs" >0.75</text><text x="283.6" y="381.7" font-size="18.5" text-anchor="start" textLength="10.6" lengthAdjust="spacingAndGlyphs" >S</text><text x="294.5" y="389.5" font-size="11.5" text-anchor="start" textLength="20.6" lengthAdjust="spacingAndGlyphs" >0.25</text><text x="228.3" y="413.1" font-size="19" text-anchor="start" textLength="110.8" lengthAdjust="spacingAndGlyphs" >Single Crystal</text><rect x="85.2" y="534.7" width="46.6" height="32" fill="#fff" stroke="#707070" stroke-width="1"/><text x="91.5" y="557.9" font-size="21.5" text-anchor="start" font-style="italic" textLength="34" lengthAdjust="spacingAndGlyphs" >H//c</text><clipPath id="clipB"><rect x="37.8" y="354" width="311.5" height="276.5"/></clipPath><g clip-path="url(#clipB)"><polyline points="98.54,605.65 104.77,603.45 111,600.96 117.23,598.62 123.46,595.86 129.69,592.73 135.92,587.55 142.15,582.28 148.38,576.5 154.61,570.18 160.84,561.94 167.07,553.63 173.3,545.36 179.53,535.21 185.76,523.58 191.99,510.85 198.22,497.12 204.45,483.03 210.68,472.7 216.91,463.5 223.14,456.34 229.37,452.42 235.6,450.21 241.83,450.01 248.06,449.93 254.29,449.93 260.52,449.96 266.75,450 272.98,450.07 279.21,450.17 285.44,450.29 291.67,450.44 297.9,450.62 304.13,450.83 310.36,451.08 316.59,451.36 322.82,451.69 329.05,452.05 335.28,452.45 341.51,452.9 347.74,453.4" stroke="#800080" stroke-width="0.9" fill="none"/><rect x="95.3" y="602.41" width="6.48" height="6.48" fill="#800080"/><rect x="101.53" y="600.21" width="6.48" height="6.48" fill="#800080"/><rect x="107.76" y="597.72" width="6.48" height="6.48" fill="#800080"/><rect x="113.99" y="595.38" width="6.48" height="6.48" fill="#800080"/><rect x="120.22" y="592.62" width="6.48" height="6.48" fill="#800080"/><rect x="126.45" y="589.49" width="6.48" height="6.48" fill="#800080"/><rect x="132.68" y="584.31" width="6.48" height="6.48" fill="#800080"/><rect x="138.91" y="579.04" width="6.48" height="6.48" fill="#800080"/><rect x="145.14" y="573.26" width="6.48" height="6.48" fill="#800080"/><rect x="151.37" y="566.94" width="6.48" height="6.48" fill="#800080"/><rect x="157.6" y="558.7" width="6.48" height="6.48" fill="#800080"/><rect x="163.83" y="550.39" width="6.48" height="6.48" fill="#800080"/><rect x="170.06" y="542.12" width="6.48" height="6.48" fill="#800080"/><rect x="176.29" y="531.97" width="6.48" height="6.48" fill="#800080"/><rect x="182.52" y="520.34" width="6.48" height="6.48" fill="#800080"/><rect x="188.75" y="507.61" width="6.48" height="6.48" fill="#800080"/><rect x="194.98" y="493.88" width="6.48" height="6.48" fill="#800080"/><rect x="201.21" y="479.79" width="6.48" height="6.48" fill="#800080"/><rect x="207.44" y="469.46" width="6.48" height="6.48" fill="#800080"/><rect x="213.67" y="460.26" width="6.48" height="6.48" fill="#800080"/><rect x="219.9" y="453.1" width="6.48" height="6.48" fill="#800080"/><rect x="226.13" y="449.18" width="6.48" height="6.48" fill="#800080"/><rect x="232.36" y="446.97" width="6.48" height="6.48" fill="#800080"/><rect x="238.59" y="446.77" width="6.48" height="6.48" fill="#800080"/><rect x="244.82" y="446.69" width="6.48" height="6.48" fill="#800080"/><rect x="251.05" y="446.69" width="6.48" height="6.48" fill="#800080"/><rect x="257.28" y="446.72" width="6.48" height="6.48" fill="#800080"/><rect x="263.51" y="446.76" width="6.48" height="6.48" fill="#800080"/><rect x="269.74" y="446.83" width="6.48" height="6.48" fill="#800080"/><rect x="275.97" y="446.93" width="6.48" height="6.48" fill="#800080"/><rect x="282.2" y="447.05" width="6.48" height="6.48" fill="#800080"/><rect x="288.43" y="447.2" width="6.48" height="6.48" fill="#800080"/><rect x="294.66" y="447.38" width="6.48" height="6.48" fill="#800080"/><rect x="300.89" y="447.59" width="6.48" height="6.48" fill="#800080"/><rect x="307.12" y="447.84" width="6.48" height="6.48" fill="#800080"/><rect x="313.35" y="448.12" width="6.48" height="6.48" fill="#800080"/><rect x="319.58" y="448.45" width="6.48" height="6.48" fill="#800080"/><rect x="325.81" y="448.81" width="6.48" height="6.48" fill="#800080"/><rect x="332.04" y="449.21" width="6.48" height="6.48" fill="#800080"/><rect x="338.27" y="449.66" width="6.48" height="6.48" fill="#800080"/><rect x="344.5" y="450.16" width="6.48" height="6.48" fill="#800080"/><polyline points="98.54,611.72 104.77,610.32 111,609.21 117.23,607.49 123.46,605.27 129.69,602.63 135.92,600.04 142.15,596.28 148.38,591.67 154.61,586.46 160.84,579.58 167.07,572.87 173.3,565.78 179.53,557.53 185.76,548.23 191.99,537.98 198.22,526.91 204.45,513.89 210.68,501.27 216.91,487.03 223.14,474.57 229.37,464.6 235.6,457.96 241.83,453.64 248.06,451.18 254.29,450.52 260.52,450.22 266.75,450.21 272.98,450.21 279.21,450.23 285.44,450.27 291.67,450.34 297.9,450.44 304.13,450.58 310.36,450.77 316.59,451.02 322.82,451.33 329.05,451.71 335.28,452.17 341.51,452.72 347.74,453.35" stroke="#800000" stroke-width="0.9" fill="none"/><circle cx="98.54" cy="611.72" r="3.78" fill="#800000"/><circle cx="104.77" cy="610.32" r="3.78" fill="#800000"/><circle cx="111" cy="609.21" r="3.78" fill="#800000"/><circle cx="117.23" cy="607.49" r="3.78" fill="#800000"/><circle cx="123.46" cy="605.27" r="3.78" fill="#800000"/><circle cx="129.69" cy="602.63" r="3.78" fill="#800000"/><circle cx="135.92" cy="600.04" r="3.78" fill="#800000"/><circle cx="142.15" cy="596.28" r="3.78" fill="#800000"/><circle cx="148.38" cy="591.67" r="3.78" fill="#800000"/><circle cx="154.61" cy="586.46" r="3.78" fill="#800000"/><circle cx="160.84" cy="579.58" r="3.78" fill="#800000"/><circle cx="167.07" cy="572.87" r="3.78" fill="#800000"/><circle cx="173.3" cy="565.78" r="3.78" fill="#800000"/><circle cx="179.53" cy="557.53" r="3.78" fill="#800000"/><circle cx="185.76" cy="548.23" r="3.78" fill="#800000"/><circle cx="191.99" cy="537.98" r="3.78" fill="#800000"/><circle cx="198.22" cy="526.91" r="3.78" fill="#800000"/><circle cx="204.45" cy="513.89" r="3.78" fill="#800000"/><circle cx="210.68" cy="501.27" r="3.78" fill="#800000"/><circle cx="216.91" cy="487.03" r="3.78" fill="#800000"/><circle cx="223.14" cy="474.57" r="3.78" fill="#800000"/><circle cx="229.37" cy="464.6" r="3.78" fill="#800000"/><circle cx="235.6" cy="457.96" r="3.78" fill="#800000"/><circle cx="241.83" cy="453.64" r="3.78" fill="#800000"/><circle cx="248.06" cy="451.18" r="3.78" fill="#800000"/><circle cx="254.29" cy="450.52" r="3.78" fill="#800000"/><circle cx="260.52" cy="450.22" r="3.78" fill="#800000"/><circle cx="266.75" cy="450.21" r="3.78" fill="#800000"/><circle cx="272.98" cy="450.21" r="3.78" fill="#800000"/><circle cx="279.21" cy="450.23" r="3.78" fill="#800000"/><circle cx="285.44" cy="450.27" r="3.78" fill="#800000"/><circle cx="291.67" cy="450.34" r="3.78" fill="#800000"/><circle cx="297.9" cy="450.44" r="3.78" fill="#800000"/><circle cx="304.13" cy="450.58" r="3.78" fill="#800000"/><circle cx="310.36" cy="450.77" r="3.78" fill="#800000"/><circle cx="316.59" cy="451.02" r="3.78" fill="#800000"/><circle cx="322.82" cy="451.33" r="3.78" fill="#800000"/><circle cx="329.05" cy="451.71" r="3.78" fill="#800000"/><circle cx="335.28" cy="452.17" r="3.78" fill="#800000"/><circle cx="341.51" cy="452.72" r="3.78" fill="#800000"/><circle cx="347.74" cy="453.35" r="3.78" fill="#800000"/><polyline points="98.54,612.74 104.77,612.53 111,611.98 117.23,611.09 123.46,609.88 129.69,608.36 135.92,606.53 142.15,604.41 148.38,602 154.61,599.32 160.84,593.52 167.07,586.93 173.3,580.31 179.53,574.14 185.76,566.78 191.99,558.2 198.22,548.78 204.45,537.98 210.68,525.8 216.91,510.96 223.14,499.49 229.37,483.38 235.6,470.75 241.83,462.05 248.06,456.62 254.29,452.9 260.52,451.99 266.75,451.47 272.98,451.31 279.21,451.32 285.44,451.33 291.67,451.35 297.9,451.4 304.13,451.48 310.36,451.59 316.59,451.75 322.82,451.95 329.05,452.21 335.28,452.54 341.51,452.93 347.74,453.4" stroke="#0000FF" stroke-width="0.9" fill="none"/><polygon points="98.54,608.26 94.01,616.03 103.08,616.03" fill="#0000FF"/><polygon points="104.77,608.05 100.24,615.82 109.31,615.82" fill="#0000FF"/><polygon points="111,607.49 106.47,615.27 115.54,615.27" fill="#0000FF"/><polygon points="117.23,606.61 112.7,614.38 121.77,614.38" fill="#0000FF"/><polygon points="123.46,605.4 118.93,613.17 128,613.17" fill="#0000FF"/><polygon points="129.69,603.87 125.16,611.65 134.23,611.65" fill="#0000FF"/><polygon points="135.92,602.04 131.39,609.82 140.46,609.82" fill="#0000FF"/><polygon points="142.15,599.92 137.62,607.7 146.69,607.7" fill="#0000FF"/><polygon points="148.38,597.51 143.85,605.29 152.92,605.29" fill="#0000FF"/><polygon points="154.61,594.83 150.08,602.61 159.15,602.61" fill="#0000FF"/><polygon points="160.84,589.04 156.31,596.81 165.38,596.81" fill="#0000FF"/><polygon points="167.07,582.44 162.54,590.21 171.61,590.21" fill="#0000FF"/><polygon points="173.3,575.82 168.77,583.6 177.84,583.6" fill="#0000FF"/><polygon points="179.53,569.65 175,577.43 184.07,577.43" fill="#0000FF"/><polygon points="185.76,562.29 181.23,570.07 190.3,570.07" fill="#0000FF"/><polygon points="191.99,553.71 187.46,561.49 196.53,561.49" fill="#0000FF"/><polygon points="198.22,544.29 193.69,552.07 202.76,552.07" fill="#0000FF"/><polygon points="204.45,533.5 199.92,541.27 208.99,541.27" fill="#0000FF"/><polygon points="210.68,521.31 206.15,529.09 215.22,529.09" fill="#0000FF"/><polygon points="216.91,506.47 212.38,514.25 221.45,514.25" fill="#0000FF"/><polygon points="223.14,495.01 218.61,502.78 227.68,502.78" fill="#0000FF"/><polygon points="229.37,478.89 224.84,486.66 233.91,486.66" fill="#0000FF"/><polygon points="235.6,466.26 231.07,474.04 240.14,474.04" fill="#0000FF"/><polygon points="241.83,457.56 237.3,465.34 246.37,465.34" fill="#0000FF"/><polygon points="248.06,452.13 243.53,459.91 252.6,459.91" fill="#0000FF"/><polygon points="254.29,448.41 249.76,456.19 258.83,456.19" fill="#0000FF"/><polygon points="260.52,447.5 255.99,455.28 265.06,455.28" fill="#0000FF"/><polygon points="266.75,446.98 262.22,454.75 271.29,454.75" fill="#0000FF"/><polygon points="272.98,446.83 268.45,454.6 277.52,454.6" fill="#0000FF"/><polygon points="279.21,446.83 274.68,454.6 283.75,454.6" fill="#0000FF"/><polygon points="285.44,446.84 280.91,454.61 289.98,454.61" fill="#0000FF"/><polygon points="291.67,446.86 287.14,454.64 296.21,454.64" fill="#0000FF"/><polygon points="297.9,446.91 293.37,454.69 302.44,454.69" fill="#0000FF"/><polygon points="304.13,446.99 299.6,454.77 308.67,454.77" fill="#0000FF"/><polygon points="310.36,447.1 305.83,454.88 314.9,454.88" fill="#0000FF"/><polygon points="316.59,447.26 312.06,455.03 321.13,455.03" fill="#0000FF"/><polygon points="322.82,447.46 318.29,455.24 327.36,455.24" fill="#0000FF"/><polygon points="329.05,447.72 324.52,455.5 333.59,455.5" fill="#0000FF"/><polygon points="335.28,448.05 330.75,455.82 339.82,455.82" fill="#0000FF"/><polygon points="341.51,448.44 336.98,456.22 346.05,456.22" fill="#0000FF"/><polygon points="347.74,448.91 343.21,456.69 352.28,456.69" fill="#0000FF"/><polyline points="98.54,614.24 104.77,613.68 111,612.84 117.23,611.76 123.46,610.48 129.69,609.03 135.92,607.44 142.15,605.75 148.38,603.99 154.61,602.08 160.84,599.82 167.07,597.04 173.3,593.49 179.53,587.58 185.76,582.56 191.99,574.56 198.22,566.33 204.45,556.45 210.68,547.41 216.91,534.45 223.14,520.82 229.37,507.45 235.6,494.63 241.83,479.59 248.06,468.85 254.29,461.07 260.52,457.94 266.75,455.84 272.98,453.69 279.21,452.22 285.44,452.14 291.67,452.15 297.9,452.17 304.13,452.2 310.36,452.26 316.59,452.34 322.82,452.46 329.05,452.63 335.28,452.84 341.51,453.11 347.74,453.44" stroke="#008080" stroke-width="0.9" fill="none"/><polygon points="98.54,618.73 94.01,610.96 103.08,610.96" fill="#008080"/><polygon points="104.77,618.17 100.24,610.39 109.31,610.39" fill="#008080"/><polygon points="111,617.33 106.47,609.55 115.54,609.55" fill="#008080"/><polygon points="117.23,616.25 112.7,608.48 121.77,608.48" fill="#008080"/><polygon points="123.46,614.97 118.93,607.19 128,607.19" fill="#008080"/><polygon points="129.69,613.52 125.16,605.74 134.23,605.74" fill="#008080"/><polygon points="135.92,611.93 131.39,604.15 140.46,604.15" fill="#008080"/><polygon points="142.15,610.24 137.62,602.46 146.69,602.46" fill="#008080"/><polygon points="148.38,608.48 143.85,600.71 152.92,600.71" fill="#008080"/><polygon points="154.61,606.57 150.08,598.79 159.15,598.79" fill="#008080"/><polygon points="160.84,604.31 156.31,596.54 165.38,596.54" fill="#008080"/><polygon points="167.07,601.52 162.54,593.75 171.61,593.75" fill="#008080"/><polygon points="173.3,597.98 168.77,590.2 177.84,590.2" fill="#008080"/><polygon points="179.53,592.07 175,584.29 184.07,584.29" fill="#008080"/><polygon points="185.76,587.05 181.23,579.28 190.3,579.28" fill="#008080"/><polygon points="191.99,579.05 187.46,571.27 196.53,571.27" fill="#008080"/><polygon points="198.22,570.81 193.69,563.04 202.76,563.04" fill="#008080"/><polygon points="204.45,560.93 199.92,553.16 208.99,553.16" fill="#008080"/><polygon points="210.68,551.9 206.15,544.12 215.22,544.12" fill="#008080"/><polygon points="216.91,538.94 212.38,531.16 221.45,531.16" fill="#008080"/><polygon points="223.14,525.31 218.61,517.53 227.68,517.53" fill="#008080"/><polygon points="229.37,511.94 224.84,504.16 233.91,504.16" fill="#008080"/><polygon points="235.6,499.11 231.07,491.34 240.14,491.34" fill="#008080"/><polygon points="241.83,484.08 237.3,476.31 246.37,476.31" fill="#008080"/><polygon points="248.06,473.33 243.53,465.56 252.6,465.56" fill="#008080"/><polygon points="254.29,465.56 249.76,457.79 258.83,457.79" fill="#008080"/><polygon points="260.52,462.42 255.99,454.65 265.06,454.65" fill="#008080"/><polygon points="266.75,460.33 262.22,452.56 271.29,452.56" fill="#008080"/><polygon points="272.98,458.18 268.45,450.4 277.52,450.4" fill="#008080"/><polygon points="279.21,456.71 274.68,448.93 283.75,448.93" fill="#008080"/><polygon points="285.44,456.63 280.91,448.86 289.98,448.86" fill="#008080"/><polygon points="291.67,456.64 287.14,448.86 296.21,448.86" fill="#008080"/><polygon points="297.9,456.65 293.37,448.88 302.44,448.88" fill="#008080"/><polygon points="304.13,456.69 299.6,448.91 308.67,448.91" fill="#008080"/><polygon points="310.36,456.74 305.83,448.97 314.9,448.97" fill="#008080"/><polygon points="316.59,456.83 312.06,449.05 321.13,449.05" fill="#008080"/><polygon points="322.82,456.95 318.29,449.18 327.36,449.18" fill="#008080"/><polygon points="329.05,457.12 324.52,449.34 333.59,449.34" fill="#008080"/><polygon points="335.28,457.33 330.75,449.55 339.82,449.55" fill="#008080"/><polygon points="341.51,457.6 336.98,449.82 346.05,449.82" fill="#008080"/><polygon points="347.74,457.92 343.21,450.15 352.28,450.15" fill="#008080"/><polyline points="98.54,614.68 104.77,614.62 111,614.33 117.23,613.86 123.46,613.23 129.69,612.47 135.92,611.61 142.15,610.69 148.38,609.73 154.61,608.64 160.84,607.23 167.07,605.33 173.3,602.78 179.53,597.31 185.76,592.81 191.99,586.37 198.22,579.97 204.45,571.13 210.68,561.63 216.91,551.42 223.14,542.25 229.37,534.12 235.6,521.42 241.83,507.75 248.06,497.03 254.29,484.22 260.52,473.95 266.75,465.79 272.98,460.32 279.21,456.85 285.44,454.24 291.67,452.71 297.9,451.84 304.13,451.59 310.36,451.6 316.59,451.64 322.82,451.75 329.05,451.94 335.28,452.26 341.51,452.71 347.74,453.34" stroke="#FF00FF" stroke-width="0.9" fill="none"/><polygon points="94.05,614.68 101.83,610.14 101.83,619.21" fill="#FF00FF"/><polygon points="100.28,614.62 108.06,610.08 108.06,619.15" fill="#FF00FF"/><polygon points="106.51,614.33 114.29,609.8 114.29,618.87" fill="#FF00FF"/><polygon points="112.74,613.86 120.52,609.33 120.52,618.4" fill="#FF00FF"/><polygon points="118.97,613.23 126.75,608.69 126.75,617.76" fill="#FF00FF"/><polygon points="125.2,612.47 132.98,607.93 132.98,617" fill="#FF00FF"/><polygon points="131.43,611.61 139.21,607.07 139.21,616.15" fill="#FF00FF"/><polygon points="137.66,610.69 145.44,606.15 145.44,615.23" fill="#FF00FF"/><polygon points="143.89,609.73 151.67,605.2 151.67,614.27" fill="#FF00FF"/><polygon points="150.12,608.64 157.9,604.1 157.9,613.18" fill="#FF00FF"/><polygon points="156.35,607.23 164.13,602.69 164.13,611.76" fill="#FF00FF"/><polygon points="162.58,605.33 170.36,600.79 170.36,609.86" fill="#FF00FF"/><polygon points="168.81,602.78 176.59,598.24 176.59,607.31" fill="#FF00FF"/><polygon points="175.04,597.31 182.82,592.77 182.82,601.84" fill="#FF00FF"/><polygon points="181.27,592.81 189.05,588.27 189.05,597.35" fill="#FF00FF"/><polygon points="187.5,586.37 195.28,581.83 195.28,590.9" fill="#FF00FF"/><polygon points="193.73,579.97 201.51,575.44 201.51,584.51" fill="#FF00FF"/><polygon points="199.96,571.13 207.74,566.6 207.74,575.67" fill="#FF00FF"/><polygon points="206.19,561.63 213.97,557.1 213.97,566.17" fill="#FF00FF"/><polygon points="212.42,551.42 220.2,546.88 220.2,555.95" fill="#FF00FF"/><polygon points="218.65,542.25 226.43,537.71 226.43,546.78" fill="#FF00FF"/><polygon points="224.88,534.12 232.66,529.58 232.66,538.66" fill="#FF00FF"/><polygon points="231.11,521.42 238.89,516.88 238.89,525.95" fill="#FF00FF"/><polygon points="237.34,507.75 245.12,503.21 245.12,512.28" fill="#FF00FF"/><polygon points="243.57,497.03 251.35,492.49 251.35,501.56" fill="#FF00FF"/><polygon points="249.8,484.22 257.58,479.69 257.58,488.76" fill="#FF00FF"/><polygon points="256.03,473.95 263.81,469.42 263.81,478.49" fill="#FF00FF"/><polygon points="262.26,465.79 270.04,461.25 270.04,470.33" fill="#FF00FF"/><polygon points="268.49,460.32 276.27,455.78 276.27,464.85" fill="#FF00FF"/><polygon points="274.72,456.85 282.5,452.32 282.5,461.39" fill="#FF00FF"/><polygon points="280.95,454.24 288.73,449.71 288.73,458.78" fill="#FF00FF"/><polygon points="287.18,452.71 294.96,448.18 294.96,457.25" fill="#FF00FF"/><polygon points="293.41,451.84 301.19,447.31 301.19,456.38" fill="#FF00FF"/><polygon points="299.64,451.59 307.42,447.05 307.42,456.13" fill="#FF00FF"/><polygon points="305.87,451.6 313.65,447.06 313.65,456.14" fill="#FF00FF"/><polygon points="312.1,451.64 319.88,447.11 319.88,456.18" fill="#FF00FF"/><polygon points="318.33,451.75 326.11,447.21 326.11,456.28" fill="#FF00FF"/><polygon points="324.56,451.94 332.34,447.41 332.34,456.48" fill="#FF00FF"/><polygon points="330.79,452.26 338.57,447.72 338.57,456.79" fill="#FF00FF"/><polygon points="337.02,452.71 344.8,448.18 344.8,457.25" fill="#FF00FF"/><polygon points="343.25,453.34 351.03,448.81 351.03,457.88" fill="#FF00FF"/><polyline points="98.54,615.51 104.77,615.49 111,615.38 117.23,615.2 123.46,614.95 129.69,614.64 135.92,614.28 142.15,613.89 148.38,613.46 154.61,612.87 160.84,612.04 167.07,610.99 173.3,609.71 179.53,607.72 185.76,604.95 191.99,600.67 198.22,595.8 204.45,589.81 210.68,582.76 216.91,573.44 223.14,564.66 229.37,553.11 235.6,540.59 241.83,528.84 248.06,515.12 254.29,499.42 260.52,486.94 266.75,474.72 272.98,464.25 279.21,458.02 285.44,454.39 291.67,452.7 297.9,451.83 304.13,451.59 310.36,451.6 316.59,451.64 322.82,451.75 329.05,451.94 335.28,452.26 341.51,452.71 347.74,453.34" stroke="#808000" stroke-width="0.9" fill="none"/><polygon points="103.03,615.51 95.25,610.98 95.25,620.05" fill="#808000"/><polygon points="109.26,615.49 101.48,610.95 101.48,620.03" fill="#808000"/><polygon points="115.49,615.38 107.71,610.85 107.71,619.92" fill="#808000"/><polygon points="121.72,615.2 113.94,610.66 113.94,619.73" fill="#808000"/><polygon points="127.95,614.95 120.17,610.41 120.17,619.48" fill="#808000"/><polygon points="134.18,614.64 126.4,610.1 126.4,619.17" fill="#808000"/><polygon points="140.41,614.28 132.63,609.75 132.63,618.82" fill="#808000"/><polygon points="146.64,613.89 138.86,609.35 138.86,618.43" fill="#808000"/><polygon points="152.87,613.46 145.09,608.93 145.09,618" fill="#808000"/><polygon points="159.1,612.87 151.32,608.33 151.32,617.4" fill="#808000"/><polygon points="165.33,612.04 157.55,607.5 157.55,616.58" fill="#808000"/><polygon points="171.56,610.99 163.78,606.45 163.78,615.52" fill="#808000"/><polygon points="177.79,609.71 170.01,605.17 170.01,614.24" fill="#808000"/><polygon points="184.02,607.72 176.24,603.18 176.24,612.25" fill="#808000"/><polygon points="190.25,604.95 182.47,600.41 182.47,609.49" fill="#808000"/><polygon points="196.48,600.67 188.7,596.13 188.7,605.2" fill="#808000"/><polygon points="202.71,595.8 194.93,591.27 194.93,600.34" fill="#808000"/><polygon points="208.94,589.81 201.16,585.28 201.16,594.35" fill="#808000"/><polygon points="215.17,582.76 207.39,578.23 207.39,587.3" fill="#808000"/><polygon points="221.4,573.44 213.62,568.91 213.62,577.98" fill="#808000"/><polygon points="227.63,564.66 219.85,560.12 219.85,569.2" fill="#808000"/><polygon points="233.86,553.11 226.08,548.58 226.08,557.65" fill="#808000"/><polygon points="240.09,540.59 232.31,536.05 232.31,545.13" fill="#808000"/><polygon points="246.32,528.84 238.54,524.31 238.54,533.38" fill="#808000"/><polygon points="252.55,515.12 244.77,510.59 244.77,519.66" fill="#808000"/><polygon points="258.78,499.42 251,494.89 251,503.96" fill="#808000"/><polygon points="265.01,486.94 257.23,482.41 257.23,491.48" fill="#808000"/><polygon points="271.24,474.72 263.46,470.19 263.46,479.26" fill="#808000"/><polygon points="277.47,464.25 269.69,459.71 269.69,468.78" fill="#808000"/><polygon points="283.7,458.02 275.92,453.48 275.92,462.56" fill="#808000"/><polygon points="289.93,454.39 282.15,449.86 282.15,458.93" fill="#808000"/><polygon points="296.16,452.7 288.38,448.17 288.38,457.24" fill="#808000"/><polygon points="302.39,451.83 294.61,447.3 294.61,456.37" fill="#808000"/><polygon points="308.62,451.59 300.84,447.05 300.84,456.13" fill="#808000"/><polygon points="314.85,451.6 307.07,447.06 307.07,456.14" fill="#808000"/><polygon points="321.08,451.64 313.3,447.11 313.3,456.18" fill="#808000"/><polygon points="327.31,451.75 319.53,447.21 319.53,456.28" fill="#808000"/><polygon points="333.54,451.94 325.76,447.41 325.76,456.48" fill="#808000"/><polygon points="339.77,452.26 331.99,447.72 331.99,456.79" fill="#808000"/><polygon points="346,452.71 338.22,448.18 338.22,457.25" fill="#808000"/><polygon points="352.23,453.34 344.45,448.81 344.45,457.88" fill="#808000"/><polyline points="98.54,616.9 104.77,616.89 111,616.83 117.23,616.73 123.46,616.58 129.69,616.39 135.92,616.16 142.15,615.88 148.38,615.57 154.61,615.21 160.84,614.81 167.07,614.37 173.3,613.78 179.53,612.56 185.76,610.95 191.99,609.08 198.22,605.75 204.45,600.39 210.68,593.88 216.91,586.31 223.14,578.06 229.37,568.21 235.6,556.82 241.83,545.66 248.06,533.86 254.29,520.42 260.52,504.36 266.75,490.23 272.98,477.21 279.21,467.42 285.44,458.9 291.67,454.21 297.9,452.25 304.13,452.15 310.36,452.16 316.59,452.2 322.82,452.29 329.05,452.43 335.28,452.66 341.51,452.98 347.74,453.4" stroke="#000080" stroke-width="0.9" fill="none"/><polygon points="98.54,612.97 99.65,615.87 102.75,616.03 100.34,617.98 101.15,620.98 98.54,619.29 95.94,620.98 96.75,617.98 94.33,616.03 97.43,615.87" fill="#000080"/><polygon points="104.77,612.96 105.88,615.86 108.98,616.02 106.57,617.97 107.38,620.97 104.77,619.28 102.17,620.97 102.98,617.97 100.56,616.02 103.66,615.86" fill="#000080"/><polygon points="111,612.9 112.11,615.8 115.21,615.96 112.8,617.91 113.61,620.91 111,619.22 108.4,620.91 109.21,617.91 106.79,615.96 109.89,615.8" fill="#000080"/><polygon points="117.23,612.8 118.34,615.7 121.44,615.86 119.03,617.81 119.84,620.81 117.23,619.12 114.63,620.81 115.44,617.81 113.02,615.86 116.12,615.7" fill="#000080"/><polygon points="123.46,612.65 124.57,615.55 127.67,615.71 125.26,617.67 126.07,620.67 123.46,618.97 120.86,620.67 121.67,617.67 119.25,615.71 122.35,615.55" fill="#000080"/><polygon points="129.69,612.47 130.8,615.36 133.9,615.52 131.49,617.48 132.3,620.48 129.69,618.78 127.09,620.48 127.9,617.48 125.48,615.52 128.58,615.36" fill="#000080"/><polygon points="135.92,612.23 137.03,615.13 140.13,615.29 137.72,617.24 138.53,620.24 135.92,618.55 133.32,620.24 134.13,617.24 131.71,615.29 134.81,615.13" fill="#000080"/><polygon points="142.15,611.96 143.26,614.86 146.36,615.02 143.95,616.97 144.76,619.97 142.15,618.27 139.55,619.97 140.36,616.97 137.94,615.02 141.04,614.86" fill="#000080"/><polygon points="148.38,611.64 149.49,614.54 152.59,614.7 150.18,616.65 150.99,619.65 148.38,617.96 145.78,619.65 146.59,616.65 144.17,614.7 147.27,614.54" fill="#000080"/><polygon points="154.61,611.28 155.72,614.18 158.82,614.34 156.41,616.29 157.22,619.29 154.61,617.6 152.01,619.29 152.82,616.29 150.4,614.34 153.5,614.18" fill="#000080"/><polygon points="160.84,610.88 161.95,613.78 165.05,613.94 162.64,615.89 163.45,618.89 160.84,617.2 158.24,618.89 159.05,615.89 156.63,613.94 159.73,613.78" fill="#000080"/><polygon points="167.07,610.44 168.18,613.34 171.28,613.5 168.87,615.45 169.68,618.45 167.07,616.76 164.47,618.45 165.28,615.45 162.86,613.5 165.96,613.34" fill="#000080"/><polygon points="173.3,609.85 174.41,612.75 177.51,612.91 175.1,614.86 175.91,617.86 173.3,616.17 170.7,617.86 171.51,614.86 169.09,612.91 172.19,612.75" fill="#000080"/><polygon points="179.53,608.63 180.64,611.53 183.74,611.69 181.33,613.64 182.14,616.64 179.53,614.95 176.93,616.64 177.74,613.64 175.32,611.69 178.42,611.53" fill="#000080"/><polygon points="185.76,607.02 186.87,609.92 189.97,610.08 187.56,612.04 188.37,615.03 185.76,613.34 183.16,615.03 183.97,612.04 181.55,610.08 184.65,609.92" fill="#000080"/><polygon points="191.99,605.15 193.1,608.05 196.2,608.21 193.79,610.16 194.6,613.16 191.99,611.47 189.39,613.16 190.2,610.16 187.78,608.21 190.88,608.05" fill="#000080"/><polygon points="198.22,601.82 199.33,604.72 202.43,604.88 200.02,606.83 200.83,609.83 198.22,608.14 195.62,609.83 196.43,606.83 194.01,604.88 197.11,604.72" fill="#000080"/><polygon points="204.45,596.46 205.56,599.36 208.66,599.52 206.25,601.47 207.06,604.47 204.45,602.78 201.85,604.47 202.66,601.47 200.24,599.52 203.34,599.36" fill="#000080"/><polygon points="210.68,589.95 211.79,592.85 214.89,593.01 212.48,594.96 213.29,597.96 210.68,596.27 208.08,597.96 208.89,594.96 206.47,593.01 209.57,592.85" fill="#000080"/><polygon points="216.91,582.38 218.02,585.28 221.12,585.44 218.71,587.39 219.52,590.39 216.91,588.7 214.31,590.39 215.12,587.39 212.7,585.44 215.8,585.28" fill="#000080"/><polygon points="223.14,574.14 224.25,577.03 227.35,577.19 224.94,579.15 225.75,582.15 223.14,580.45 220.54,582.15 221.35,579.15 218.93,577.19 222.03,577.03" fill="#000080"/><polygon points="229.37,564.29 230.48,567.18 233.58,567.35 231.17,569.3 231.98,572.3 229.37,570.6 226.77,572.3 227.58,569.3 225.16,567.35 228.26,567.18" fill="#000080"/><polygon points="235.6,552.89 236.71,555.79 239.81,555.95 237.4,557.9 238.21,560.9 235.6,559.21 233,560.9 233.81,557.9 231.39,555.95 234.49,555.79" fill="#000080"/><polygon points="241.83,541.73 242.94,544.63 246.04,544.79 243.63,546.74 244.44,549.74 241.83,548.05 239.23,549.74 240.04,546.74 237.62,544.79 240.72,544.63" fill="#000080"/><polygon points="248.06,529.93 249.17,532.83 252.27,532.99 249.86,534.94 250.67,537.94 248.06,536.25 245.46,537.94 246.27,534.94 243.85,532.99 246.95,532.83" fill="#000080"/><polygon points="254.29,516.49 255.4,519.39 258.5,519.55 256.09,521.5 256.9,524.5 254.29,522.81 251.69,524.5 252.5,521.5 250.08,519.55 253.18,519.39" fill="#000080"/><polygon points="260.52,500.43 261.63,503.33 264.73,503.49 262.32,505.44 263.13,508.44 260.52,506.75 257.92,508.44 258.73,505.44 256.31,503.49 259.41,503.33" fill="#000080"/><polygon points="266.75,486.3 267.86,489.2 270.96,489.36 268.55,491.32 269.36,494.31 266.75,492.62 264.15,494.31 264.96,491.32 262.54,489.36 265.64,489.2" fill="#000080"/><polygon points="272.98,473.28 274.09,476.18 277.19,476.34 274.78,478.29 275.59,481.29 272.98,479.6 270.38,481.29 271.19,478.29 268.77,476.34 271.87,476.18" fill="#000080"/><polygon points="279.21,463.49 280.32,466.39 283.42,466.55 281.01,468.5 281.82,471.5 279.21,469.81 276.61,471.5 277.42,468.5 275,466.55 278.1,466.39" fill="#000080"/><polygon points="285.44,454.97 286.55,457.87 289.65,458.03 287.24,459.98 288.05,462.98 285.44,461.29 282.84,462.98 283.65,459.98 281.23,458.03 284.33,457.87" fill="#000080"/><polygon points="291.67,450.28 292.78,453.18 295.88,453.34 293.47,455.29 294.28,458.29 291.67,456.6 289.07,458.29 289.88,455.29 287.46,453.34 290.56,453.18" fill="#000080"/><polygon points="297.9,448.32 299.01,451.22 302.11,451.38 299.7,453.33 300.51,456.33 297.9,454.64 295.3,456.33 296.11,453.33 293.69,451.38 296.79,451.22" fill="#000080"/><polygon points="304.13,448.22 305.24,451.12 308.34,451.28 305.93,453.23 306.74,456.23 304.13,454.54 301.53,456.23 302.34,453.23 299.92,451.28 303.02,451.12" fill="#000080"/><polygon points="310.36,448.23 311.47,451.13 314.57,451.29 312.16,453.24 312.97,456.24 310.36,454.55 307.76,456.24 308.57,453.24 306.15,451.29 309.25,451.13" fill="#000080"/><polygon points="316.59,448.27 317.7,451.17 320.8,451.33 318.39,453.28 319.2,456.28 316.59,454.59 313.99,456.28 314.8,453.28 312.38,451.33 315.48,451.17" fill="#000080"/><polygon points="322.82,448.36 323.93,451.26 327.03,451.42 324.62,453.37 325.43,456.37 322.82,454.68 320.22,456.37 321.03,453.37 318.61,451.42 321.71,451.26" fill="#000080"/><polygon points="329.05,448.51 330.16,451.41 333.26,451.57 330.85,453.52 331.66,456.52 329.05,454.82 326.45,456.52 327.26,453.52 324.84,451.57 327.94,451.41" fill="#000080"/><polygon points="335.28,448.73 336.39,451.63 339.49,451.79 337.08,453.74 337.89,456.74 335.28,455.05 332.68,456.74 333.49,453.74 331.07,451.79 334.17,451.63" fill="#000080"/><polygon points="341.51,449.05 342.62,451.95 345.72,452.11 343.31,454.06 344.12,457.06 341.51,455.37 338.91,457.06 339.72,454.06 337.3,452.11 340.4,451.95" fill="#000080"/><polygon points="347.74,449.48 348.85,452.37 351.95,452.53 349.54,454.49 350.35,457.49 347.74,455.79 345.14,457.49 345.95,454.49 343.53,452.53 346.63,452.37" fill="#000080"/><polyline points="101.66,615.79 107.89,615.79 114.12,615.79 120.35,615.78 126.58,615.78 132.81,615.77 139.04,615.75 145.27,615.73 151.5,615.71 157.73,615.68 163.96,615.65 170.19,615.61 176.42,615.56 182.65,615.46 188.88,614.72 195.11,613.51 201.34,610.91 207.57,607.39 213.8,602.65 220.03,594.62 226.26,585.53 232.49,574.76 238.72,561.93 244.95,547.35 251.18,533.83 257.41,521.28 263.64,507.95 269.87,492.9 276.1,477.07 282.33,464.24 288.56,457.46 294.79,453.35 301.02,450.83 307.25,450.24 313.48,450.68 319.71,451.13 325.94,451.52 332.17,451.91 338.4,452.23 344.63,452.41 350.86,452.42" stroke="#FF0000" stroke-width="0.9" fill="none"/><polygon points="101.66,610.59 106.86,615.79 101.66,620.99 96.46,615.79" fill="#FF0000"/><polygon points="107.89,610.59 113.09,615.79 107.89,620.99 102.69,615.79" fill="#FF0000"/><polygon points="114.12,610.59 119.32,615.79 114.12,620.99 108.92,615.79" fill="#FF0000"/><polygon points="120.35,610.58 125.55,615.78 120.35,620.98 115.15,615.78" fill="#FF0000"/><polygon points="126.58,610.58 131.78,615.78 126.58,620.98 121.38,615.78" fill="#FF0000"/><polygon points="132.81,610.57 138.01,615.77 132.81,620.97 127.61,615.77" fill="#FF0000"/><polygon points="139.04,610.55 144.24,615.75 139.04,620.95 133.84,615.75" fill="#FF0000"/><polygon points="145.27,610.53 150.47,615.73 145.27,620.93 140.07,615.73" fill="#FF0000"/><polygon points="151.5,610.51 156.7,615.71 151.5,620.91 146.3,615.71" fill="#FF0000"/><polygon points="157.73,610.48 162.93,615.68 157.73,620.88 152.53,615.68" fill="#FF0000"/><polygon points="163.96,610.45 169.16,615.65 163.96,620.85 158.76,615.65" fill="#FF0000"/><polygon points="170.19,610.41 175.39,615.61 170.19,620.81 164.99,615.61" fill="#FF0000"/><polygon points="176.42,610.36 181.62,615.56 176.42,620.76 171.22,615.56" fill="#FF0000"/><polygon points="182.65,610.26 187.85,615.46 182.65,620.66 177.45,615.46" fill="#FF0000"/><polygon points="188.88,609.52 194.08,614.72 188.88,619.92 183.68,614.72" fill="#FF0000"/><polygon points="195.11,608.31 200.31,613.51 195.11,618.71 189.91,613.51" fill="#FF0000"/><polygon points="201.34,605.71 206.54,610.91 201.34,616.11 196.14,610.91" fill="#FF0000"/><polygon points="207.57,602.19 212.77,607.39 207.57,612.59 202.37,607.39" fill="#FF0000"/><polygon points="213.8,597.45 219,602.65 213.8,607.85 208.6,602.65" fill="#FF0000"/><polygon points="220.03,589.42 225.23,594.62 220.03,599.82 214.83,594.62" fill="#FF0000"/><polygon points="226.26,580.33 231.46,585.53 226.26,590.73 221.06,585.53" fill="#FF0000"/><polygon points="232.49,569.56 237.69,574.76 232.49,579.96 227.29,574.76" fill="#FF0000"/><polygon points="238.72,556.73 243.92,561.93 238.72,567.13 233.52,561.93" fill="#FF0000"/><polygon points="244.95,542.15 250.15,547.35 244.95,552.55 239.75,547.35" fill="#FF0000"/><polygon points="251.18,528.63 256.38,533.83 251.18,539.03 245.98,533.83" fill="#FF0000"/><polygon points="257.41,516.08 262.61,521.28 257.41,526.48 252.21,521.28" fill="#FF0000"/><polygon points="263.64,502.75 268.84,507.95 263.64,513.15 258.44,507.95" fill="#FF0000"/><polygon points="269.87,487.7 275.07,492.9 269.87,498.1 264.67,492.9" fill="#FF0000"/><polygon points="276.1,471.87 281.3,477.07 276.1,482.27 270.9,477.07" fill="#FF0000"/><polygon points="282.33,459.04 287.53,464.24 282.33,469.44 277.13,464.24" fill="#FF0000"/><polygon points="288.56,452.26 293.76,457.46 288.56,462.66 283.36,457.46" fill="#FF0000"/><polygon points="294.79,448.15 299.99,453.35 294.79,458.55 289.59,453.35" fill="#FF0000"/><polygon points="301.02,445.63 306.22,450.83 301.02,456.03 295.82,450.83" fill="#FF0000"/><polygon points="307.25,445.04 312.45,450.24 307.25,455.44 302.05,450.24" fill="#FF0000"/><polygon points="313.48,445.48 318.68,450.68 313.48,455.88 308.28,450.68" fill="#FF0000"/><polygon points="319.71,445.93 324.91,451.13 319.71,456.33 314.51,451.13" fill="#FF0000"/><polygon points="325.94,446.32 331.14,451.52 325.94,456.72 320.74,451.52" fill="#FF0000"/><polygon points="332.17,446.71 337.37,451.91 332.17,457.11 326.97,451.91" fill="#FF0000"/><polygon points="338.4,447.03 343.6,452.23 338.4,457.43 333.2,452.23" fill="#FF0000"/><polygon points="344.63,447.21 349.83,452.41 344.63,457.61 339.43,452.41" fill="#FF0000"/><polygon points="350.86,447.22 356.06,452.42 350.86,457.62 345.66,452.42" fill="#FF0000"/><polyline points="98.54,616.9 104.77,616.9 111,616.9 117.23,616.89 123.46,616.89 129.69,616.88 135.92,616.86 142.15,616.84 148.38,616.82 154.61,616.79 160.84,616.76 167.07,616.72 173.3,616.67 179.53,616.61 185.76,615.91 191.99,614.81 198.22,612.32 204.45,608.87 210.68,604.41 216.91,596.56 223.14,587.62 229.37,577.03 235.6,564.44 241.83,549.86 248.06,536.22 254.29,523.68 260.52,510.46 266.75,495.56 272.98,479.64 279.21,466.27 285.44,459.08 291.67,454.83 297.9,452.1 304.13,451.32 310.36,451.62 316.59,452.06 322.82,452.41 329.05,452.81 335.28,453.18 341.51,453.45 347.74,453.53" stroke="#000000" stroke-width="0.9" fill="none"/><circle cx="98.54" cy="616.9" r="3.89" fill="url(#ball)"/><circle cx="104.77" cy="616.9" r="3.89" fill="url(#ball)"/><circle cx="111" cy="616.9" r="3.89" fill="url(#ball)"/><circle cx="117.23" cy="616.89" r="3.89" fill="url(#ball)"/><circle cx="123.46" cy="616.89" r="3.89" fill="url(#ball)"/><circle cx="129.69" cy="616.88" r="3.89" fill="url(#ball)"/><circle cx="135.92" cy="616.86" r="3.89" fill="url(#ball)"/><circle cx="142.15" cy="616.84" r="3.89" fill="url(#ball)"/><circle cx="148.38" cy="616.82" r="3.89" fill="url(#ball)"/><circle cx="154.61" cy="616.79" r="3.89" fill="url(#ball)"/><circle cx="160.84" cy="616.76" r="3.89" fill="url(#ball)"/><circle cx="167.07" cy="616.72" r="3.89" fill="url(#ball)"/><circle cx="173.3" cy="616.67" r="3.89" fill="url(#ball)"/><circle cx="179.53" cy="616.61" r="3.89" fill="url(#ball)"/><circle cx="185.76" cy="615.91" r="3.89" fill="url(#ball)"/><circle cx="191.99" cy="614.81" r="3.89" fill="url(#ball)"/><circle cx="198.22" cy="612.32" r="3.89" fill="url(#ball)"/><circle cx="204.45" cy="608.87" r="3.89" fill="url(#ball)"/><circle cx="210.68" cy="604.41" r="3.89" fill="url(#ball)"/><circle cx="216.91" cy="596.56" r="3.89" fill="url(#ball)"/><circle cx="223.14" cy="587.62" r="3.89" fill="url(#ball)"/><circle cx="229.37" cy="577.03" r="3.89" fill="url(#ball)"/><circle cx="235.6" cy="564.44" r="3.89" fill="url(#ball)"/><circle cx="241.83" cy="549.86" r="3.89" fill="url(#ball)"/><circle cx="248.06" cy="536.22" r="3.89" fill="url(#ball)"/><circle cx="254.29" cy="523.68" r="3.89" fill="url(#ball)"/><circle cx="260.52" cy="510.46" r="3.89" fill="url(#ball)"/><circle cx="266.75" cy="495.56" r="3.89" fill="url(#ball)"/><circle cx="272.98" cy="479.64" r="3.89" fill="url(#ball)"/><circle cx="279.21" cy="466.27" r="3.89" fill="url(#ball)"/><circle cx="285.44" cy="459.08" r="3.89" fill="url(#ball)"/><circle cx="291.67" cy="454.83" r="3.89" fill="url(#ball)"/><circle cx="297.9" cy="452.1" r="3.89" fill="url(#ball)"/><circle cx="304.13" cy="451.32" r="3.89" fill="url(#ball)"/><circle cx="310.36" cy="451.62" r="3.89" fill="url(#ball)"/><circle cx="316.59" cy="452.06" r="3.89" fill="url(#ball)"/><circle cx="322.82" cy="452.41" r="3.89" fill="url(#ball)"/><circle cx="329.05" cy="452.81" r="3.89" fill="url(#ball)"/><circle cx="335.28" cy="453.18" r="3.89" fill="url(#ball)"/><circle cx="341.51" cy="453.45" r="3.89" fill="url(#ball)"/><circle cx="347.74" cy="453.53" r="3.89" fill="url(#ball)"/></g><path d="M276,498.2H301.2" stroke="#b070b0" stroke-width="1.2"/><rect x="285.36" y="494.96" width="6.48" height="6.48" fill="#800080"/><text x="305.4" y="502.4" font-size="11.5" text-anchor="start" >140 kOe</text><path d="M276,512.55H301.2" stroke="#c09090" stroke-width="1.2"/><circle cx="288.6" cy="512.55" r="3.78" fill="#800000"/><text x="305.4" y="516.75" font-size="11.5" text-anchor="start" >120 kOe</text><path d="M276,526.9H301.2" stroke="#4040ff" stroke-width="1.2"/><polygon points="288.6,522.41 284.06,530.19 293.14,530.19" fill="#0000FF"/><text x="305.4" y="531.1" font-size="11.5" text-anchor="start" >100 kOe</text><path d="M276,541.25H301.2" stroke="#60c0c0" stroke-width="1.2"/><polygon points="288.6,545.74 284.06,537.96 293.14,537.96" fill="#008080"/><text x="305.4" y="545.45" font-size="11.5" text-anchor="start" >80 kOe</text><path d="M276,555.6H301.2" stroke="#ff70ff" stroke-width="1.2"/><polygon points="284.11,555.6 291.89,551.06 291.89,560.14" fill="#FF00FF"/><text x="305.4" y="559.8" font-size="11.5" text-anchor="start" >60 kOe</text><path d="M276,569.95H301.2" stroke="#a0a050" stroke-width="1.2"/><polygon points="293.09,569.95 285.31,565.41 285.31,574.49" fill="#808000"/><text x="305.4" y="574.15" font-size="11.5" text-anchor="start" >40 kOe</text><path d="M276,584.3H301.2" stroke="#6060a0" stroke-width="1.2"/><polygon points="288.6,580.37 289.71,583.27 292.81,583.43 290.4,585.38 291.2,588.38 288.6,586.69 286,588.38 286.8,585.38 284.39,583.43 287.49,583.27" fill="#000080"/><text x="305.4" y="588.5" font-size="11.5" text-anchor="start" >20 kOe</text><path d="M276,598.65H301.2" stroke="#ff6060" stroke-width="1.2"/><polygon points="288.6,594.33 292.92,598.65 288.6,602.97 284.28,598.65" fill="#FF0000"/><text x="305.4" y="602.85" font-size="11.5" text-anchor="start" >10 kOe</text><path d="M276,613H301.2" stroke="#808080" stroke-width="1.2"/><circle cx="288.6" cy="613" r="3.89" fill="url(#ball)"/><text x="305.4" y="617.2" font-size="11.5" text-anchor="start" >0 Oe</text><rect x="83.3" y="25.4" width="122" height="109.6" fill="#fff"/><polyline points="119.52,110.23 122.45,110.99 125.39,113.84 128.32,114.62 131.26,116.36 134.19,117.94 137.13,119.27 140.06,120.55 143,122.12 145.93,123.61 148.87,125.73 151.8,127.17 154.74,130.25 157.67,131.1 160.61,135" stroke="#008000" stroke-width="1.4" fill="none"/><polygon points="119.52,108.03 117.42,111.63 121.62,111.63" fill="#008000"/><polygon points="122.45,108.79 120.35,112.39 124.55,112.39" fill="#008000"/><polygon points="125.39,111.64 123.29,115.24 127.49,115.24" fill="#008000"/><polygon points="128.32,112.42 126.22,116.02 130.42,116.02" fill="#008000"/><polygon points="131.26,114.16 129.16,117.76 133.36,117.76" fill="#008000"/><polygon points="134.19,115.74 132.09,119.34 136.29,119.34" fill="#008000"/><polygon points="137.13,117.07 135.03,120.67 139.23,120.67" fill="#008000"/><polygon points="140.06,118.35 137.96,121.95 142.16,121.95" fill="#008000"/><polygon points="143,119.92 140.9,123.52 145.1,123.52" fill="#008000"/><polygon points="145.93,121.41 143.83,125.01 148.03,125.01" fill="#008000"/><polygon points="148.87,123.53 146.77,127.13 150.97,127.13" fill="#008000"/><polygon points="151.8,124.97 149.7,128.57 153.9,128.57" fill="#008000"/><polygon points="154.74,128.05 152.64,131.65 156.84,131.65" fill="#008000"/><polygon points="157.67,128.9 155.57,132.5 159.77,132.5" fill="#008000"/><polygon points="160.61,132.8 158.51,136.4 162.71,136.4" fill="#008000"/><path d="M83.5,93.41 L84.38,93.43 L85.25,93.48 L86.13,93.57 L87.01,93.68 L87.88,93.83 L88.76,94 L89.64,94.21 L90.51,94.44 L91.39,94.69 L92.27,94.97 L93.15,95.27 L94.02,95.59 L94.9,95.93 L95.78,96.3 L96.65,96.68 L97.53,97.07 L98.41,97.49 L99.28,97.91 L100.16,98.36 L101.04,98.81 L101.91,99.28 L102.79,99.76 L103.67,100.25 L104.54,100.75 L105.42,101.25 L106.3,101.77 L107.17,102.29 L108.05,102.82 L108.93,103.36 L109.81,103.9 L110.68,104.44 L111.56,104.99 L112.44,105.54 L113.31,106.1 L114.19,106.66 L115.07,107.21 L115.94,107.77 L116.82,108.33 L117.7,108.89 L118.57,109.45 L119.45,110.01 L120.33,110.57 L121.2,111.13 L122.08,111.68 L122.96,112.24 L123.83,112.79 L124.71,113.34 L125.59,113.88 L126.47,114.43 L127.34,114.97 L128.22,115.5 L129.1,116.04 L129.97,116.57 L130.85,117.09 L131.73,117.62 L132.6,118.14 L133.48,118.65 L134.36,119.17 L135.23,119.68 L136.11,120.19 L136.99,120.69 L137.86,121.19 L138.74,121.69 L139.62,122.19 L140.49,122.68 L141.37,123.17 L142.25,123.66 L143.13,124.15 L144,124.64 L144.88,125.13 L145.76,125.62 L146.63,126.11 L147.51,126.6 L148.39,127.09 L149.26,127.58 L150.14,128.07 L151.02,128.57 L151.89,129.07 L152.77,129.58 L153.65,130.08 L154.52,130.6 L155.4,131.12 L156.28,131.65 L157.15,132.18 L158.03,132.72 L158.91,133.28 L159.79,133.84 L160.66,134.41 L161.54,135" stroke="#800080" stroke-width="1.6" fill="none"/><polyline points="148.2,106.94 151.13,108.66 154.07,112.53 157,114.46 159.94,117.5 162.87,120.54 165.81,123.51 168.74,126.54 171.68,129.95 174.61,133.26" stroke="#0000FF" stroke-width="1.4" fill="none"/><polygon points="148.2,104.74 146.1,108.34 150.3,108.34" fill="#0000FF"/><polygon points="151.13,106.46 149.03,110.06 153.23,110.06" fill="#0000FF"/><polygon points="154.07,110.33 151.97,113.93 156.17,113.93" fill="#0000FF"/><polygon points="157,112.26 154.9,115.86 159.1,115.86" fill="#0000FF"/><polygon points="159.94,115.3 157.84,118.9 162.04,118.9" fill="#0000FF"/><polygon points="162.87,118.34 160.77,121.94 164.97,121.94" fill="#0000FF"/><polygon points="165.81,121.31 163.71,124.91 167.91,124.91" fill="#0000FF"/><polygon points="168.74,124.34 166.64,127.94 170.84,127.94" fill="#0000FF"/><polygon points="171.68,127.75 169.58,131.35 173.78,131.35" fill="#0000FF"/><polygon points="174.61,131.06 172.51,134.66 176.71,134.66" fill="#0000FF"/><path d="M83.5,57.77 L84.54,57.79 L85.58,57.86 L86.62,57.97 L87.65,58.13 L88.69,58.32 L89.73,58.56 L90.77,58.83 L91.81,59.15 L92.85,59.5 L93.89,59.88 L94.93,60.3 L95.96,60.75 L97,61.24 L98.04,61.75 L99.08,62.3 L100.12,62.88 L101.16,63.48 L102.2,64.11 L103.24,64.77 L104.27,65.45 L105.31,66.15 L106.35,66.88 L107.39,67.63 L108.43,68.41 L109.47,69.2 L110.51,70.01 L111.55,70.84 L112.58,71.69 L113.62,72.56 L114.66,73.45 L115.7,74.34 L116.74,75.26 L117.78,76.19 L118.82,77.13 L119.86,78.08 L120.89,79.05 L121.93,80.03 L122.97,81.01 L124.01,82.01 L125.05,83.02 L126.09,84.04 L127.13,85.06 L128.17,86.09 L129.2,87.13 L130.24,88.18 L131.28,89.23 L132.32,90.28 L133.36,91.34 L134.4,92.41 L135.44,93.48 L136.47,94.55 L137.51,95.63 L138.55,96.7 L139.59,97.78 L140.63,98.87 L141.67,99.95 L142.71,101.03 L143.75,102.12 L144.78,103.2 L145.82,104.29 L146.86,105.37 L147.9,106.46 L148.94,107.54 L149.98,108.62 L151.02,109.71 L152.06,110.79 L153.09,111.86 L154.13,112.94 L155.17,114.02 L156.21,115.09 L157.25,116.16 L158.29,117.23 L159.33,118.29 L160.37,119.35 L161.4,120.41 L162.44,121.47 L163.48,122.53 L164.52,123.58 L165.56,124.63 L166.6,125.68 L167.64,126.72 L168.68,127.76 L169.71,128.8 L170.75,129.84 L171.79,130.88 L172.83,131.91 L173.87,132.94 L174.91,133.97 L175.95,134.99" stroke="#008080" stroke-width="1.6" fill="none"/><polyline points="164.21,108.26 167.14,110.61 170.08,115.06 173.01,117.51 175.95,121.04 178.88,124.5 181.82,127.75 184.75,130.9 187.69,134.17" stroke="#000000" stroke-width="1.4" fill="none"/><rect x="162.51" y="106.56" width="3.4" height="3.4" fill="#000000"/><rect x="165.44" y="108.91" width="3.4" height="3.4" fill="#000000"/><rect x="168.38" y="113.36" width="3.4" height="3.4" fill="#000000"/><rect x="171.31" y="115.81" width="3.4" height="3.4" fill="#000000"/><rect x="174.25" y="119.34" width="3.4" height="3.4" fill="#000000"/><rect x="177.18" y="122.8" width="3.4" height="3.4" fill="#000000"/><rect x="180.12" y="126.05" width="3.4" height="3.4" fill="#000000"/><rect x="183.05" y="129.2" width="3.4" height="3.4" fill="#000000"/><rect x="185.99" y="132.47" width="3.4" height="3.4" fill="#000000"/><path d="M83.5,33.15 L84.68,33.17 L85.86,33.24 L87.04,33.35 L88.22,33.5 L89.41,33.7 L90.59,33.94 L91.77,34.23 L92.95,34.56 L94.13,34.92 L95.31,35.33 L96.49,35.79 L97.67,36.28 L98.85,36.81 L100.04,37.39 L101.22,38 L102.4,38.65 L103.58,39.34 L104.76,40.06 L105.94,40.83 L107.12,41.63 L108.3,42.47 L109.48,43.34 L110.67,44.25 L111.85,45.19 L113.03,46.16 L114.21,47.17 L115.39,48.21 L116.57,49.28 L117.75,50.38 L118.93,51.51 L120.11,52.67 L121.3,53.86 L122.48,55.08 L123.66,56.32 L124.84,57.59 L126.02,58.88 L127.2,60.2 L128.38,61.54 L129.56,62.91 L130.74,64.29 L131.93,65.7 L133.11,67.12 L134.29,68.57 L135.47,70.03 L136.65,71.51 L137.83,73 L139.01,74.51 L140.19,76.03 L141.37,77.57 L142.56,79.11 L143.74,80.67 L144.92,82.24 L146.1,83.81 L147.28,85.39 L148.46,86.98 L149.64,88.57 L150.82,90.17 L152,91.76 L153.19,93.36 L154.37,94.96 L155.55,96.56 L156.73,98.15 L157.91,99.74 L159.09,101.32 L160.27,102.9 L161.45,104.47 L162.63,106.03 L163.82,107.58 L165,109.11 L166.18,110.64 L167.36,112.15 L168.54,113.64 L169.72,115.11 L170.9,116.57 L172.08,118 L173.26,119.41 L174.45,120.8 L175.63,122.16 L176.81,123.49 L177.99,124.8 L179.17,126.07 L180.35,127.31 L181.53,128.52 L182.71,129.7 L183.89,130.84 L185.08,131.94 L186.26,133 L187.44,134.01 L188.62,134.99" stroke="#FF0000" stroke-width="1.6" fill="none"/><path d="M83.5,135V132.6M86.17,135V133.5M88.84,135V133.5M91.5,135V133.5M94.17,135V133.5M96.84,135V132.6M99.51,135V133.5M102.18,135V133.5M104.84,135V133.5M107.51,135V133.5M110.18,135V132.6M112.85,135V133.5M115.52,135V133.5M118.18,135V133.5M120.85,135V133.5M123.52,135V132.6M126.19,135V133.5M128.86,135V133.5M131.52,135V133.5M134.19,135V133.5M136.86,135V132.6M139.53,135V133.5M142.2,135V133.5M144.86,135V133.5M147.53,135V133.5M150.2,135V132.6M152.87,135V133.5M155.54,135V133.5M158.2,135V133.5M160.87,135V133.5M163.54,135V132.6M166.21,135V133.5M168.88,135V133.5M171.54,135V133.5M174.21,135V133.5M176.88,135V132.6M179.55,135V133.5M182.22,135V133.5M184.88,135V133.5M187.55,135V133.5M190.22,135V132.6M192.89,135V133.5M195.56,135V133.5M198.22,135V133.5M200.89,135V133.5M203.56,135V132.6M83.3,135H85.7M83.3,132.88H84.8M83.3,130.76H84.8M83.3,128.64H84.8M83.3,126.52H84.8M83.3,124.39H84.8M83.3,122.27H84.8M83.3,120.15H84.8M83.3,118.03H85.7M83.3,115.91H84.8M83.3,113.79H84.8M83.3,111.67H84.8M83.3,109.55H84.8M83.3,107.42H84.8M83.3,105.3H84.8M83.3,103.18H84.8M83.3,101.06H85.7M83.3,98.94H84.8M83.3,96.82H84.8M83.3,94.7H84.8M83.3,92.57H84.8M83.3,90.45H84.8M83.3,88.33H84.8M83.3,86.21H84.8M83.3,84.09H85.7M83.3,81.97H84.8M83.3,79.85H84.8M83.3,77.73H84.8M83.3,75.6H84.8M83.3,73.48H84.8M83.3,71.36H84.8M83.3,69.24H84.8M83.3,67.12H85.7M83.3,65H84.8M83.3,62.88H84.8M83.3,60.76H84.8M83.3,58.63H84.8M83.3,56.51H84.8M83.3,54.39H84.8M83.3,52.27H84.8M83.3,50.15H85.7M83.3,48.03H84.8M83.3,45.91H84.8M83.3,43.79H84.8M83.3,41.66H84.8M83.3,39.54H84.8M83.3,37.42H84.8M83.3,35.3H84.8M83.3,33.18H85.7M83.3,31.06H84.8M83.3,28.94H84.8M83.3,26.82H84.8" stroke="#000" stroke-width="0.9" fill="none"/><rect x="83.3" y="25.4" width="122" height="109.6" stroke="#000" stroke-width="1.8" fill="none"/><g stroke="#000" stroke-width="0"><text x="82.4" y="137.4" font-size="9.5" text-anchor="end" textLength="3.8" lengthAdjust="spacingAndGlyphs" stroke="#000" stroke-width="0.2">0</text><text x="82.4" y="120.43" font-size="9.5" text-anchor="end" textLength="7.2" lengthAdjust="spacingAndGlyphs" stroke="#000" stroke-width="0.2">10</text><text x="82.4" y="103.46" font-size="9.5" text-anchor="end" textLength="7.2" lengthAdjust="spacingAndGlyphs" stroke="#000" stroke-width="0.2">20</text><text x="82.4" y="86.49" font-size="9.5" text-anchor="end" textLength="7.2" lengthAdjust="spacingAndGlyphs" stroke="#000" stroke-width="0.2">30</text><text x="82.4" y="69.52" font-size="9.5" text-anchor="end" textLength="7.2" lengthAdjust="spacingAndGlyphs" stroke="#000" stroke-width="0.2">40</text><text x="82.4" y="52.55" font-size="9.5" text-anchor="end" textLength="7.2" lengthAdjust="spacingAndGlyphs" stroke="#000" stroke-width="0.2">50</text><text x="82.4" y="35.58" font-size="9.5" text-anchor="end" textLength="7.2" lengthAdjust="spacingAndGlyphs" stroke="#000" stroke-width="0.2">60</text><text x="84.1" y="144.2" font-size="9.5" text-anchor="middle" textLength="4.4" lengthAdjust="spacingAndGlyphs" stroke="#000" stroke-width="0.2">0</text><text x="97.44" y="144.2" font-size="9.5" text-anchor="middle" textLength="4.4" lengthAdjust="spacingAndGlyphs" stroke="#000" stroke-width="0.2">1</text><text x="110.78" y="144.2" font-size="9.5" text-anchor="middle" textLength="4.4" lengthAdjust="spacingAndGlyphs" stroke="#000" stroke-width="0.2">2</text><text x="124.12" y="144.2" font-size="9.5" text-anchor="middle" textLength="4.4" lengthAdjust="spacingAndGlyphs" stroke="#000" stroke-width="0.2">3</text><text x="137.46" y="144.2" font-size="9.5" text-anchor="middle" textLength="4.4" lengthAdjust="spacingAndGlyphs" stroke="#000" stroke-width="0.2">4</text><text x="150.8" y="144.2" font-size="9.5" text-anchor="middle" textLength="4.4" lengthAdjust="spacingAndGlyphs" stroke="#000" stroke-width="0.2">5</text><text x="164.14" y="144.2" font-size="9.5" text-anchor="middle" textLength="4.4" lengthAdjust="spacingAndGlyphs" stroke="#000" stroke-width="0.2">6</text><text x="177.48" y="144.2" font-size="9.5" text-anchor="middle" textLength="4.4" lengthAdjust="spacingAndGlyphs" stroke="#000" stroke-width="0.2">7</text><text x="190.82" y="144.2" font-size="9.5" text-anchor="middle" textLength="4.4" lengthAdjust="spacingAndGlyphs" stroke="#000" stroke-width="0.2">8</text><text x="204.16" y="144.2" font-size="9.5" text-anchor="middle" textLength="4.4" lengthAdjust="spacingAndGlyphs" stroke="#000" stroke-width="0.2">9</text><text x="137.4" y="153.4" font-size="10.5" textLength="16.4" lengthAdjust="spacingAndGlyphs"><tspan font-style="italic">T</tspan>(K)</text><text transform="translate(69.4,99.2) rotate(-90)" font-size="10.2" stroke="#000" stroke-width="0.12" textLength="46.4" lengthAdjust="spacingAndGlyphs">&#956;<tspan font-size="6.2" dy="1.8">o</tspan><tspan font-style="italic" dy="-1.8">H</tspan><tspan font-size="6.2" dy="1.8" font-style="italic">c2</tspan><tspan dy="-1.8">(Tesla)</tspan></text><text x="147.7" y="38.7" font-size="10.5" textLength="37" lengthAdjust="spacingAndGlyphs">FeTe<tspan font-size="6.5" dy="2.8">0.75</tspan><tspan dy="-2.8">S</tspan><tspan font-size="6.5" dy="2.8">0.25</tspan></text><text x="147.7" y="54.1" font-size="10.5" text-anchor="start" textLength="45.5" lengthAdjust="spacingAndGlyphs" >Single Crystal</text><text x="165.5" y="81.8" font-size="11" textLength="21.5" lengthAdjust="spacingAndGlyphs">H//<tspan font-style="italic">ab</tspan></text><text x="85.5" y="47.6" font-size="9.8" textLength="21.8" lengthAdjust="spacingAndGlyphs" stroke="#000" stroke-width="0.15">90%<tspan font-style="italic" font-size="11">&#961;</tspan><tspan font-size="6" dy="3.6">n</tspan></text><text x="88.2" y="73.1" font-size="9.8" textLength="21.8" lengthAdjust="spacingAndGlyphs" stroke="#000" stroke-width="0.15">50%<tspan font-style="italic" font-size="11">&#961;</tspan><tspan font-size="6" dy="3.6">n</tspan></text><text x="86.4" y="103.5" font-size="9.8" textLength="21.8" lengthAdjust="spacingAndGlyphs" stroke="#000" stroke-width="0.15">10%<tspan font-style="italic" font-size="11">&#961;</tspan><tspan font-size="6" dy="3.6">n</tspan></text></g><rect x="68.2" y="361.7" width="128.6" height="111.5" fill="#fff"/><polyline points="101.43,441.25 104.56,441.95 107.7,445.39 110.83,446.12 113.97,448.11 117.1,449.87 120.24,451.29 123.37,452.61 126.51,454.31 129.64,455.87 132.78,458.26 135.91,459.76 139.05,463.41 142.18,464.15 145.32,469.16 148.45,470.39" stroke="#008000" stroke-width="1.4" fill="none"/><polygon points="101.43,439.05 99.33,442.65 103.53,442.65" fill="#008000"/><polygon points="104.56,439.75 102.46,443.35 106.66,443.35" fill="#008000"/><polygon points="107.7,443.19 105.6,446.79 109.8,446.79" fill="#008000"/><polygon points="110.83,443.92 108.73,447.52 112.93,447.52" fill="#008000"/><polygon points="113.97,445.91 111.87,449.51 116.07,449.51" fill="#008000"/><polygon points="117.1,447.67 115,451.27 119.2,451.27" fill="#008000"/><polygon points="120.24,449.09 118.14,452.69 122.34,452.69" fill="#008000"/><polygon points="123.37,450.41 121.27,454.01 125.47,454.01" fill="#008000"/><polygon points="126.51,452.11 124.41,455.71 128.61,455.71" fill="#008000"/><polygon points="129.64,453.67 127.54,457.27 131.74,457.27" fill="#008000"/><polygon points="132.78,456.06 130.68,459.66 134.88,459.66" fill="#008000"/><polygon points="135.91,457.56 133.81,461.16 138.01,461.16" fill="#008000"/><polygon points="139.05,461.21 136.95,464.81 141.15,464.81" fill="#008000"/><polygon points="142.18,461.95 140.08,465.55 144.28,465.55" fill="#008000"/><polygon points="145.32,466.96 143.22,470.56 147.42,470.56" fill="#008000"/><polygon points="148.45,468.19 146.35,471.79 150.55,471.79" fill="#008000"/><path d="M68.65,425.8 L69.57,425.82 L70.49,425.88 L71.41,425.98 L72.33,426.12 L73.25,426.28 L74.17,426.49 L75.09,426.72 L76.02,426.98 L76.94,427.27 L77.86,427.59 L78.78,427.93 L79.7,428.3 L80.62,428.69 L81.54,429.1 L82.46,429.53 L83.38,429.98 L84.3,430.45 L85.22,430.93 L86.14,431.43 L87.06,431.94 L87.98,432.47 L88.9,433.01 L89.82,433.56 L90.75,434.11 L91.67,434.68 L92.59,435.26 L93.51,435.84 L94.43,436.43 L95.35,437.02 L96.27,437.62 L97.19,438.22 L98.11,438.83 L99.03,439.44 L99.95,440.05 L100.87,440.66 L101.79,441.27 L102.71,441.88 L103.63,442.5 L104.56,443.11 L105.48,443.72 L106.4,444.33 L107.32,444.93 L108.24,445.54 L109.16,446.14 L110.08,446.74 L111,447.34 L111.92,447.93 L112.84,448.52 L113.76,449.11 L114.68,449.7 L115.6,450.28 L116.52,450.85 L117.44,451.43 L118.36,452 L119.29,452.57 L120.21,453.13 L121.13,453.69 L122.05,454.25 L122.97,454.81 L123.89,455.36 L124.81,455.91 L125.73,456.46 L126.65,457.01 L127.57,457.56 L128.49,458.11 L129.41,458.66 L130.33,459.21 L131.25,459.76 L132.17,460.31 L133.1,460.87 L134.02,461.42 L134.94,461.99 L135.86,462.55 L136.78,463.13 L137.7,463.71 L138.62,464.29 L139.54,464.88 L140.46,465.49 L141.38,466.1 L142.3,466.72 L143.22,467.36 L144.14,468.01 L145.06,468.67 L145.98,469.34 L146.9,470.04 L147.83,470.75 L148.75,471.48 L149.67,472.23 L150.59,473" stroke="#800080" stroke-width="1.6" fill="none"/><polyline points="132.78,437.95 135.91,439.43 139.05,443.75 142.18,445.5 145.31,448.72 148.45,451.95 151.58,455.1 154.72,458.39 157.85,462.28 160.99,466.21 164.12,471.07" stroke="#0000FF" stroke-width="1.4" fill="none"/><polygon points="132.78,435.75 130.68,439.35 134.88,439.35" fill="#0000FF"/><polygon points="135.91,437.23 133.81,440.83 138.01,440.83" fill="#0000FF"/><polygon points="139.05,441.55 136.95,445.15 141.15,445.15" fill="#0000FF"/><polygon points="142.18,443.3 140.08,446.9 144.28,446.9" fill="#0000FF"/><polygon points="145.31,446.52 143.22,450.12 147.41,450.12" fill="#0000FF"/><polygon points="148.45,449.75 146.35,453.35 150.55,453.35" fill="#0000FF"/><polygon points="151.58,452.9 149.48,456.5 153.68,456.5" fill="#0000FF"/><polygon points="154.72,456.19 152.62,459.79 156.82,459.79" fill="#0000FF"/><polygon points="157.85,460.08 155.75,463.68 159.95,463.68" fill="#0000FF"/><polygon points="160.99,464.01 158.89,467.61 163.09,467.61" fill="#0000FF"/><polygon points="164.12,468.87 162.02,472.47 166.22,472.47" fill="#0000FF"/><path d="M68.65,390.62 L69.74,390.65 L70.83,390.73 L71.92,390.86 L73.01,391.03 L74.09,391.26 L75.18,391.53 L76.27,391.84 L77.36,392.19 L78.45,392.59 L79.54,393.02 L80.63,393.49 L81.72,394 L82.8,394.53 L83.89,395.11 L84.98,395.71 L86.07,396.34 L87.16,397.01 L88.25,397.7 L89.34,398.41 L90.43,399.15 L91.51,399.91 L92.6,400.7 L93.69,401.51 L94.78,402.34 L95.87,403.18 L96.96,404.05 L98.05,404.93 L99.14,405.83 L100.22,406.74 L101.31,407.67 L102.4,408.61 L103.49,409.56 L104.58,410.53 L105.67,411.5 L106.76,412.49 L107.85,413.48 L108.93,414.49 L110.02,415.5 L111.11,416.52 L112.2,417.55 L113.29,418.58 L114.38,419.62 L115.47,420.67 L116.56,421.71 L117.64,422.77 L118.73,423.83 L119.82,424.89 L120.91,425.95 L122,427.02 L123.09,428.09 L124.18,429.17 L125.27,430.24 L126.35,431.32 L127.44,432.4 L128.53,433.49 L129.62,434.57 L130.71,435.66 L131.8,436.75 L132.89,437.84 L133.98,438.93 L135.06,440.02 L136.15,441.12 L137.24,442.22 L138.33,443.32 L139.42,444.43 L140.51,445.54 L141.6,446.65 L142.69,447.76 L143.77,448.88 L144.86,450.01 L145.95,451.14 L147.04,452.27 L148.13,453.41 L149.22,454.56 L150.31,455.71 L151.4,456.87 L152.48,458.04 L153.57,459.22 L154.66,460.41 L155.75,461.61 L156.84,462.81 L157.93,464.03 L159.02,465.27 L160.11,466.51 L161.19,467.77 L162.28,469.05 L163.37,470.34 L164.46,471.65 L165.55,472.98" stroke="#008080" stroke-width="1.6" fill="none"/><polyline points="147.03,436.49 150.16,438.35 153.3,443.01 156.43,445.06 159.56,448.51 162.7,451.9 165.83,455.13 168.97,458.42 172.1,462.22 175.24,465.94 178.37,470.48" stroke="#000000" stroke-width="1.4" fill="none"/><rect x="145.33" y="434.79" width="3.4" height="3.4" fill="#000000"/><rect x="148.46" y="436.65" width="3.4" height="3.4" fill="#000000"/><rect x="151.6" y="441.31" width="3.4" height="3.4" fill="#000000"/><rect x="154.73" y="443.36" width="3.4" height="3.4" fill="#000000"/><rect x="157.87" y="446.81" width="3.4" height="3.4" fill="#000000"/><rect x="161" y="450.2" width="3.4" height="3.4" fill="#000000"/><rect x="164.13" y="453.43" width="3.4" height="3.4" fill="#000000"/><rect x="167.27" y="456.72" width="3.4" height="3.4" fill="#000000"/><rect x="170.4" y="460.52" width="3.4" height="3.4" fill="#000000"/><rect x="173.54" y="464.24" width="3.4" height="3.4" fill="#000000"/><rect x="176.67" y="468.78" width="3.4" height="3.4" fill="#000000"/><path d="M68.65,370.57 L69.91,370.6 L71.16,370.69 L72.42,370.85 L73.67,371.06 L74.93,371.34 L76.18,371.67 L77.44,372.05 L78.69,372.48 L79.95,372.97 L81.2,373.5 L82.46,374.08 L83.71,374.71 L84.97,375.38 L86.22,376.09 L87.48,376.84 L88.73,377.63 L89.99,378.46 L91.25,379.33 L92.5,380.22 L93.76,381.16 L95.01,382.12 L96.27,383.12 L97.52,384.14 L98.78,385.19 L100.03,386.27 L101.29,387.38 L102.54,388.51 L103.8,389.66 L105.05,390.83 L106.31,392.02 L107.56,393.24 L108.82,394.47 L110.07,395.71 L111.33,396.98 L112.58,398.26 L113.84,399.55 L115.1,400.86 L116.35,402.18 L117.61,403.51 L118.86,404.85 L120.12,406.21 L121.37,407.57 L122.63,408.93 L123.88,410.31 L125.14,411.69 L126.39,413.08 L127.65,414.48 L128.9,415.88 L130.16,417.28 L131.41,418.69 L132.67,420.1 L133.92,421.51 L135.18,422.92 L136.44,424.34 L137.69,425.75 L138.95,427.17 L140.2,428.58 L141.46,430 L142.71,431.42 L143.97,432.83 L145.22,434.24 L146.48,435.65 L147.73,437.06 L148.99,438.47 L150.24,439.88 L151.5,441.28 L152.75,442.68 L154.01,444.08 L155.26,445.48 L156.52,446.87 L157.77,448.26 L159.03,449.65 L160.29,451.03 L161.54,452.42 L162.8,453.8 L164.05,455.17 L165.31,456.55 L166.56,457.92 L167.82,459.3 L169.07,460.67 L170.33,462.04 L171.58,463.4 L172.84,464.77 L174.09,466.14 L175.35,467.5 L176.6,468.87 L177.86,470.24 L179.11,471.61 L180.37,472.98" stroke="#FF0000" stroke-width="1.6" fill="none"/><path d="M68.65,473.2V470.8M71.5,473.2V471.7M74.35,473.2V471.7M77.2,473.2V471.7M80.05,473.2V471.7M82.9,473.2V470.8M85.75,473.2V471.7M88.6,473.2V471.7M91.45,473.2V471.7M94.3,473.2V471.7M97.15,473.2V470.8M100,473.2V471.7M102.85,473.2V471.7M105.7,473.2V471.7M108.55,473.2V471.7M111.4,473.2V470.8M114.25,473.2V471.7M117.1,473.2V471.7M119.95,473.2V471.7M122.8,473.2V471.7M125.65,473.2V470.8M128.5,473.2V471.7M131.35,473.2V471.7M134.2,473.2V471.7M137.05,473.2V471.7M139.9,473.2V470.8M142.75,473.2V471.7M145.6,473.2V471.7M148.45,473.2V471.7M151.3,473.2V471.7M154.15,473.2V470.8M157,473.2V471.7M159.85,473.2V471.7M162.7,473.2V471.7M165.55,473.2V471.7M168.4,473.2V470.8M171.25,473.2V471.7M174.1,473.2V471.7M176.95,473.2V471.7M179.8,473.2V471.7M182.65,473.2V470.8M185.5,473.2V471.7M188.35,473.2V471.7M191.2,473.2V471.7M194.05,473.2V471.7M196.9,473.2V470.8M68.2,473H70.6M68.2,470.22H69.7M68.2,467.44H69.7M68.2,464.65H69.7M68.2,461.87H69.7M68.2,459.09H69.7M68.2,456.31H69.7M68.2,453.52H69.7M68.2,450.74H70.6M68.2,447.96H69.7M68.2,445.18H69.7M68.2,442.39H69.7M68.2,439.61H69.7M68.2,436.83H69.7M68.2,434.05H69.7M68.2,431.26H69.7M68.2,428.48H70.6M68.2,425.7H69.7M68.2,422.92H69.7M68.2,420.13H69.7M68.2,417.35H69.7M68.2,414.57H69.7M68.2,411.79H69.7M68.2,409H69.7M68.2,406.22H70.6M68.2,403.44H69.7M68.2,400.65H69.7M68.2,397.87H69.7M68.2,395.09H69.7M68.2,392.31H69.7M68.2,389.52H69.7M68.2,386.74H69.7M68.2,383.96H70.6M68.2,381.18H69.7M68.2,378.39H69.7M68.2,375.61H69.7M68.2,372.83H69.7M68.2,370.05H69.7M68.2,367.26H69.7M68.2,364.48H69.7" stroke="#000" stroke-width="0.9" fill="none"/><rect x="68.2" y="361.7" width="128.6" height="111.5" stroke="#000" stroke-width="1.8" fill="none"/><g stroke="#000" stroke-width="0"><text x="66.2" y="475.5" font-size="9.5" text-anchor="end" textLength="3.8" lengthAdjust="spacingAndGlyphs" stroke="#000" stroke-width="0.2">0</text><text x="66.2" y="453.24" font-size="9.5" text-anchor="end" textLength="7.2" lengthAdjust="spacingAndGlyphs" stroke="#000" stroke-width="0.2">10</text><text x="66.2" y="430.98" font-size="9.5" text-anchor="end" textLength="7.2" lengthAdjust="spacingAndGlyphs" stroke="#000" stroke-width="0.2">20</text><text x="66.2" y="408.72" font-size="9.5" text-anchor="end" textLength="7.2" lengthAdjust="spacingAndGlyphs" stroke="#000" stroke-width="0.2">30</text><text x="66.2" y="386.46" font-size="9.5" text-anchor="end" textLength="7.2" lengthAdjust="spacingAndGlyphs" stroke="#000" stroke-width="0.2">40</text><text x="66.2" y="364.2" font-size="9.5" text-anchor="end" textLength="7.2" lengthAdjust="spacingAndGlyphs" stroke="#000" stroke-width="0.2">50</text><text x="68.65" y="482.8" font-size="9.5" text-anchor="middle" textLength="4.4" lengthAdjust="spacingAndGlyphs" stroke="#000" stroke-width="0.2">0</text><text x="82.9" y="482.8" font-size="9.5" text-anchor="middle" textLength="4.4" lengthAdjust="spacingAndGlyphs" stroke="#000" stroke-width="0.2">1</text><text x="97.15" y="482.8" font-size="9.5" text-anchor="middle" textLength="4.4" lengthAdjust="spacingAndGlyphs" stroke="#000" stroke-width="0.2">2</text><text x="111.4" y="482.8" font-size="9.5" text-anchor="middle" textLength="4.4" lengthAdjust="spacingAndGlyphs" stroke="#000" stroke-width="0.2">3</text><text x="125.65" y="482.8" font-size="9.5" text-anchor="middle" textLength="4.4" lengthAdjust="spacingAndGlyphs" stroke="#000" stroke-width="0.2">4</text><text x="139.9" y="482.8" font-size="9.5" text-anchor="middle" textLength="4.4" lengthAdjust="spacingAndGlyphs" stroke="#000" stroke-width="0.2">5</text><text x="154.15" y="482.8" font-size="9.5" text-anchor="middle" textLength="4.4" lengthAdjust="spacingAndGlyphs" stroke="#000" stroke-width="0.2">6</text><text x="168.4" y="482.8" font-size="9.5" text-anchor="middle" textLength="4.4" lengthAdjust="spacingAndGlyphs" stroke="#000" stroke-width="0.2">7</text><text x="182.65" y="482.8" font-size="9.5" text-anchor="middle" textLength="4.4" lengthAdjust="spacingAndGlyphs" stroke="#000" stroke-width="0.2">8</text><text x="196.9" y="482.8" font-size="9.5" text-anchor="middle" textLength="4.4" lengthAdjust="spacingAndGlyphs" stroke="#000" stroke-width="0.2">9</text><text x="124.8" y="494.2" font-size="10.5" textLength="16.8" lengthAdjust="spacingAndGlyphs"><tspan font-style="italic">T</tspan>(K)</text><text transform="translate(54.2,434.6) rotate(-90)" font-size="10.2" stroke="#000" stroke-width="0.12" textLength="47.6" lengthAdjust="spacingAndGlyphs">&#956;<tspan font-size="6.2" dy="1.8">o</tspan><tspan font-style="italic" dy="-1.8">H</tspan><tspan font-size="6.2" dy="1.8" font-style="italic">c2</tspan><tspan dy="-1.8">(Tesla)</tspan></text><text x="135.5" y="374.7" font-size="10.5" textLength="40.6" lengthAdjust="spacingAndGlyphs">FeTe<tspan font-size="6.5" dy="2.8">0.75</tspan><tspan dy="-2.8">S</tspan><tspan font-size="6.5" dy="2.8">0.25</tspan></text><text x="134.9" y="391" font-size="10.5" text-anchor="start" textLength="49" lengthAdjust="spacingAndGlyphs" >Single Crystal</text><text x="149.6" y="413.8" font-size="11" textLength="15.7" lengthAdjust="spacingAndGlyphs">H//<tspan font-style="italic">c</tspan></text><text x="71.3" y="384.0" font-size="9.8" textLength="21.8" lengthAdjust="spacingAndGlyphs" stroke="#000" stroke-width="0.15">90%<tspan font-style="italic" font-size="11">&#961;</tspan><tspan font-size="6" dy="3.6">n</tspan></text><text x="71.3" y="406.0" font-size="9.8" textLength="21.8" lengthAdjust="spacingAndGlyphs" stroke="#000" stroke-width="0.15">50%<tspan font-style="italic" font-size="11">&#961;</tspan><tspan font-size="6" dy="3.6">n</tspan></text><text x="71.9" y="439.4" font-size="9.8" textLength="21.8" lengthAdjust="spacingAndGlyphs" stroke="#000" stroke-width="0.15">10%<tspan font-style="italic" font-size="11">&#961;</tspan><tspan font-size="6" dy="3.6">n</tspan></text></g></svg></body></html>
